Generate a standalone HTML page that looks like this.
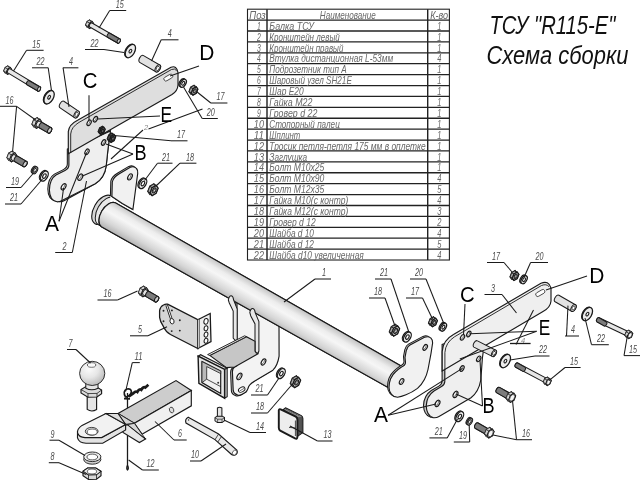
<!DOCTYPE html>
<html lang="ru"><head><meta charset="utf-8"><title>ТСУ R115-E Схема сборки</title>
<style>
html,body{margin:0;padding:0;background:#fff}
body{width:640px;height:482px;overflow:hidden}
svg{display:block;font-family:"Liberation Sans","DejaVu Sans",sans-serif}
</style></head><body>
<svg width="640" height="482" viewBox="0 0 640 482">
<defs>
<linearGradient id="gb" gradientUnits="userSpaceOnUse" x1="112.25" y1="198.9" x2="97.75" y2="224.06">
<stop offset="0" stop-color="#bdbdbd"/><stop offset="0.28" stop-color="#ededed"/><stop offset="0.45" stop-color="#f6f6f6"/><stop offset="0.78" stop-color="#d6d6d6"/><stop offset="1" stop-color="#b4b4b4"/>
</linearGradient>
<radialGradient id="gs" cx="0.38" cy="0.3" r="0.75">
<stop offset="0" stop-color="#fcfcfc"/><stop offset="0.5" stop-color="#e6e6e6"/><stop offset="1" stop-color="#b6b6b6"/>
</radialGradient>
<filter id="idf" x="0" y="0" width="640" height="482" filterUnits="userSpaceOnUse"><feOffset dx="0" dy="0"/></filter>
</defs>
<rect width="640" height="482" fill="#fff"/>
<g filter="url(#idf)">

<g id="table">
<rect x="247.5" y="9.2" width="201.9" height="250.81" fill="#fff" stroke="#222" stroke-width="1.1"/>
<line x1="247.5" y1="20.1" x2="449.4" y2="20.1" stroke="#222" stroke-width="1.3"/>
<line x1="247.5" y1="31.01" x2="449.4" y2="31.01" stroke="#222" stroke-width="1.3"/>
<line x1="247.5" y1="41.91" x2="449.4" y2="41.91" stroke="#222" stroke-width="1.3"/>
<line x1="247.5" y1="52.82" x2="449.4" y2="52.82" stroke="#222" stroke-width="1.3"/>
<line x1="247.5" y1="63.72" x2="449.4" y2="63.72" stroke="#222" stroke-width="1.3"/>
<line x1="247.5" y1="74.63" x2="449.4" y2="74.63" stroke="#222" stroke-width="1.3"/>
<line x1="247.5" y1="85.53" x2="449.4" y2="85.53" stroke="#222" stroke-width="1.3"/>
<line x1="247.5" y1="96.44" x2="449.4" y2="96.44" stroke="#222" stroke-width="1.3"/>
<line x1="247.5" y1="107.34" x2="449.4" y2="107.34" stroke="#222" stroke-width="1.3"/>
<line x1="247.5" y1="118.25" x2="449.4" y2="118.25" stroke="#222" stroke-width="1.3"/>
<line x1="247.5" y1="129.16" x2="449.4" y2="129.16" stroke="#222" stroke-width="1.3"/>
<line x1="247.5" y1="140.06" x2="449.4" y2="140.06" stroke="#222" stroke-width="1.3"/>
<line x1="247.5" y1="150.96" x2="449.4" y2="150.96" stroke="#222" stroke-width="1.3"/>
<line x1="247.5" y1="161.87" x2="449.4" y2="161.87" stroke="#222" stroke-width="1.3"/>
<line x1="247.5" y1="172.77" x2="449.4" y2="172.77" stroke="#222" stroke-width="1.3"/>
<line x1="247.5" y1="183.68" x2="449.4" y2="183.68" stroke="#222" stroke-width="1.3"/>
<line x1="247.5" y1="194.58" x2="449.4" y2="194.58" stroke="#222" stroke-width="1.3"/>
<line x1="247.5" y1="205.49" x2="449.4" y2="205.49" stroke="#222" stroke-width="1.3"/>
<line x1="247.5" y1="216.39" x2="449.4" y2="216.39" stroke="#222" stroke-width="1.3"/>
<line x1="247.5" y1="227.3" x2="449.4" y2="227.3" stroke="#222" stroke-width="1.3"/>
<line x1="247.5" y1="238.2" x2="449.4" y2="238.2" stroke="#222" stroke-width="1.3"/>
<line x1="247.5" y1="249.11" x2="449.4" y2="249.11" stroke="#222" stroke-width="1.3"/>
<line x1="267" y1="9.2" x2="267" y2="260.01" stroke="#222" stroke-width="1.43"/>
<line x1="427.7" y1="9.2" x2="427.7" y2="260.01" stroke="#222" stroke-width="1.43"/>
<text x="249.3" y="18.8" font-size="10.6" fill="#686868" text-anchor="start" font-style="italic" font-weight="normal" textLength="16.5" lengthAdjust="spacingAndGlyphs" >Поз</text>
<text x="319.8" y="18.8" font-size="10.6" fill="#686868" text-anchor="start" font-style="italic" font-weight="normal" textLength="56" lengthAdjust="spacingAndGlyphs" >Наименование</text>
<text x="430.2" y="18.8" font-size="10.6" fill="#686868" text-anchor="start" font-style="italic" font-weight="normal" textLength="18" lengthAdjust="spacingAndGlyphs" >К-во</text>
<text x="257" y="29.71" font-size="10.6" fill="#686868" text-anchor="start" font-style="italic" font-weight="normal" textLength="3.8" lengthAdjust="spacingAndGlyphs" >1</text>
<text x="269.3" y="29.71" font-size="10.6" fill="#686868" text-anchor="start" font-style="italic" font-weight="normal" textLength="44.7" lengthAdjust="spacingAndGlyphs" >Балка ТСУ</text>
<text x="439.3" y="29.71" font-size="10.6" fill="#686868" text-anchor="middle" font-style="italic" font-weight="normal" textLength="4.2" lengthAdjust="spacingAndGlyphs" >1</text>
<text x="257" y="40.61" font-size="10.6" fill="#686868" text-anchor="start" font-style="italic" font-weight="normal" textLength="3.8" lengthAdjust="spacingAndGlyphs" >2</text>
<text x="269.3" y="40.61" font-size="10.6" fill="#686868" text-anchor="start" font-style="italic" font-weight="normal" textLength="70.5" lengthAdjust="spacingAndGlyphs" >Кронштейн левый</text>
<text x="439.3" y="40.61" font-size="10.6" fill="#686868" text-anchor="middle" font-style="italic" font-weight="normal" textLength="4.2" lengthAdjust="spacingAndGlyphs" >1</text>
<text x="257" y="51.52" font-size="10.6" fill="#686868" text-anchor="start" font-style="italic" font-weight="normal" textLength="3.8" lengthAdjust="spacingAndGlyphs" >3</text>
<text x="269.3" y="51.52" font-size="10.6" fill="#686868" text-anchor="start" font-style="italic" font-weight="normal" textLength="74" lengthAdjust="spacingAndGlyphs" >Кронштейн правый</text>
<text x="439.3" y="51.52" font-size="10.6" fill="#686868" text-anchor="middle" font-style="italic" font-weight="normal" textLength="4.2" lengthAdjust="spacingAndGlyphs" >1</text>
<text x="257" y="62.42" font-size="10.6" fill="#686868" text-anchor="start" font-style="italic" font-weight="normal" textLength="3.8" lengthAdjust="spacingAndGlyphs" >4</text>
<text x="269.3" y="62.42" font-size="10.6" fill="#686868" text-anchor="start" font-style="italic" font-weight="normal" textLength="123.8" lengthAdjust="spacingAndGlyphs" >Втулка дистанционная L-53мм</text>
<text x="439.3" y="62.42" font-size="10.6" fill="#686868" text-anchor="middle" font-style="italic" font-weight="normal" textLength="4.2" lengthAdjust="spacingAndGlyphs" >4</text>
<text x="257" y="73.33" font-size="10.6" fill="#686868" text-anchor="start" font-style="italic" font-weight="normal" textLength="3.8" lengthAdjust="spacingAndGlyphs" >5</text>
<text x="269.3" y="73.33" font-size="10.6" fill="#686868" text-anchor="start" font-style="italic" font-weight="normal" textLength="77.3" lengthAdjust="spacingAndGlyphs" >Подрозетник тип А</text>
<text x="439.3" y="73.33" font-size="10.6" fill="#686868" text-anchor="middle" font-style="italic" font-weight="normal" textLength="4.2" lengthAdjust="spacingAndGlyphs" >1</text>
<text x="257" y="84.23" font-size="10.6" fill="#686868" text-anchor="start" font-style="italic" font-weight="normal" textLength="3.8" lengthAdjust="spacingAndGlyphs" >6</text>
<text x="269.3" y="84.23" font-size="10.6" fill="#686868" text-anchor="start" font-style="italic" font-weight="normal" textLength="82.5" lengthAdjust="spacingAndGlyphs" >Шаровый узел SH21E</text>
<text x="439.3" y="84.23" font-size="10.6" fill="#686868" text-anchor="middle" font-style="italic" font-weight="normal" textLength="4.2" lengthAdjust="spacingAndGlyphs" >1</text>
<text x="257" y="95.14" font-size="10.6" fill="#686868" text-anchor="start" font-style="italic" font-weight="normal" textLength="3.8" lengthAdjust="spacingAndGlyphs" >7</text>
<text x="269.3" y="95.14" font-size="10.6" fill="#686868" text-anchor="start" font-style="italic" font-weight="normal" textLength="34.4" lengthAdjust="spacingAndGlyphs" >Шар Е20</text>
<text x="439.3" y="95.14" font-size="10.6" fill="#686868" text-anchor="middle" font-style="italic" font-weight="normal" textLength="4.2" lengthAdjust="spacingAndGlyphs" >1</text>
<text x="257" y="106.05" font-size="10.6" fill="#686868" text-anchor="start" font-style="italic" font-weight="normal" textLength="3.8" lengthAdjust="spacingAndGlyphs" >8</text>
<text x="269.3" y="106.05" font-size="10.6" fill="#686868" text-anchor="start" font-style="italic" font-weight="normal" textLength="43" lengthAdjust="spacingAndGlyphs" >Гайка М22</text>
<text x="439.3" y="106.05" font-size="10.6" fill="#686868" text-anchor="middle" font-style="italic" font-weight="normal" textLength="4.2" lengthAdjust="spacingAndGlyphs" >1</text>
<text x="257" y="116.95" font-size="10.6" fill="#686868" text-anchor="start" font-style="italic" font-weight="normal" textLength="3.8" lengthAdjust="spacingAndGlyphs" >9</text>
<text x="269.3" y="116.95" font-size="10.6" fill="#686868" text-anchor="start" font-style="italic" font-weight="normal" textLength="48" lengthAdjust="spacingAndGlyphs" >Гровер d 22</text>
<text x="439.3" y="116.95" font-size="10.6" fill="#686868" text-anchor="middle" font-style="italic" font-weight="normal" textLength="4.2" lengthAdjust="spacingAndGlyphs" >1</text>
<text x="253.8" y="127.86" font-size="10.6" fill="#686868" text-anchor="start" font-style="italic" font-weight="normal" textLength="10.2" lengthAdjust="spacingAndGlyphs" >10</text>
<text x="269.3" y="127.86" font-size="10.6" fill="#686868" text-anchor="start" font-style="italic" font-weight="normal" textLength="70.5" lengthAdjust="spacingAndGlyphs" >Стопорный палец</text>
<text x="439.3" y="127.86" font-size="10.6" fill="#686868" text-anchor="middle" font-style="italic" font-weight="normal" textLength="4.2" lengthAdjust="spacingAndGlyphs" >1</text>
<text x="253.8" y="138.76" font-size="10.6" fill="#686868" text-anchor="start" font-style="italic" font-weight="normal" textLength="10.2" lengthAdjust="spacingAndGlyphs" >11</text>
<text x="269.3" y="138.76" font-size="10.6" fill="#686868" text-anchor="start" font-style="italic" font-weight="normal" textLength="31" lengthAdjust="spacingAndGlyphs" >Шплинт</text>
<text x="439.3" y="138.76" font-size="10.6" fill="#686868" text-anchor="middle" font-style="italic" font-weight="normal" textLength="4.2" lengthAdjust="spacingAndGlyphs" >1</text>
<text x="253.8" y="149.66" font-size="10.6" fill="#686868" text-anchor="start" font-style="italic" font-weight="normal" textLength="10.2" lengthAdjust="spacingAndGlyphs" >12</text>
<text x="269.3" y="149.66" font-size="10.6" fill="#686868" text-anchor="start" font-style="italic" font-weight="normal" textLength="156.4" lengthAdjust="spacingAndGlyphs" >Тросик петля-петля 175 мм в оплетке</text>
<text x="439.3" y="149.66" font-size="10.6" fill="#686868" text-anchor="middle" font-style="italic" font-weight="normal" textLength="4.2" lengthAdjust="spacingAndGlyphs" >1</text>
<text x="253.8" y="160.57" font-size="10.6" fill="#686868" text-anchor="start" font-style="italic" font-weight="normal" textLength="10.2" lengthAdjust="spacingAndGlyphs" >13</text>
<text x="269.3" y="160.57" font-size="10.6" fill="#686868" text-anchor="start" font-style="italic" font-weight="normal" textLength="37.8" lengthAdjust="spacingAndGlyphs" >Заглушка</text>
<text x="439.3" y="160.57" font-size="10.6" fill="#686868" text-anchor="middle" font-style="italic" font-weight="normal" textLength="4.2" lengthAdjust="spacingAndGlyphs" >1</text>
<text x="253.8" y="171.47" font-size="10.6" fill="#686868" text-anchor="start" font-style="italic" font-weight="normal" textLength="10.2" lengthAdjust="spacingAndGlyphs" >14</text>
<text x="269.3" y="171.47" font-size="10.6" fill="#686868" text-anchor="start" font-style="italic" font-weight="normal" textLength="55" lengthAdjust="spacingAndGlyphs" >Болт М10х25</text>
<text x="439.3" y="171.47" font-size="10.6" fill="#686868" text-anchor="middle" font-style="italic" font-weight="normal" textLength="4.2" lengthAdjust="spacingAndGlyphs" >1</text>
<text x="253.8" y="182.38" font-size="10.6" fill="#686868" text-anchor="start" font-style="italic" font-weight="normal" textLength="10.2" lengthAdjust="spacingAndGlyphs" >15</text>
<text x="269.3" y="182.38" font-size="10.6" fill="#686868" text-anchor="start" font-style="italic" font-weight="normal" textLength="55" lengthAdjust="spacingAndGlyphs" >Болт  М10х90</text>
<text x="439.3" y="182.38" font-size="10.6" fill="#686868" text-anchor="middle" font-style="italic" font-weight="normal" textLength="4.2" lengthAdjust="spacingAndGlyphs" >4</text>
<text x="253.8" y="193.28" font-size="10.6" fill="#686868" text-anchor="start" font-style="italic" font-weight="normal" textLength="10.2" lengthAdjust="spacingAndGlyphs" >16</text>
<text x="269.3" y="193.28" font-size="10.6" fill="#686868" text-anchor="start" font-style="italic" font-weight="normal" textLength="55" lengthAdjust="spacingAndGlyphs" >Болт М12х35</text>
<text x="439.3" y="193.28" font-size="10.6" fill="#686868" text-anchor="middle" font-style="italic" font-weight="normal" textLength="4.2" lengthAdjust="spacingAndGlyphs" >5</text>
<text x="253.8" y="204.19" font-size="10.6" fill="#686868" text-anchor="start" font-style="italic" font-weight="normal" textLength="10.2" lengthAdjust="spacingAndGlyphs" >17</text>
<text x="269.3" y="204.19" font-size="10.6" fill="#686868" text-anchor="start" font-style="italic" font-weight="normal" textLength="79" lengthAdjust="spacingAndGlyphs" >Гайка М10(с контр)</text>
<text x="439.3" y="204.19" font-size="10.6" fill="#686868" text-anchor="middle" font-style="italic" font-weight="normal" textLength="4.2" lengthAdjust="spacingAndGlyphs" >4</text>
<text x="253.8" y="215.09" font-size="10.6" fill="#686868" text-anchor="start" font-style="italic" font-weight="normal" textLength="10.2" lengthAdjust="spacingAndGlyphs" >18</text>
<text x="269.3" y="215.09" font-size="10.6" fill="#686868" text-anchor="start" font-style="italic" font-weight="normal" textLength="79" lengthAdjust="spacingAndGlyphs" >Гайка М12(с контр)</text>
<text x="439.3" y="215.09" font-size="10.6" fill="#686868" text-anchor="middle" font-style="italic" font-weight="normal" textLength="4.2" lengthAdjust="spacingAndGlyphs" >3</text>
<text x="253.8" y="226" font-size="10.6" fill="#686868" text-anchor="start" font-style="italic" font-weight="normal" textLength="10.2" lengthAdjust="spacingAndGlyphs" >19</text>
<text x="269.3" y="226" font-size="10.6" fill="#686868" text-anchor="start" font-style="italic" font-weight="normal" textLength="46.4" lengthAdjust="spacingAndGlyphs" >Гровер d 12</text>
<text x="439.3" y="226" font-size="10.6" fill="#686868" text-anchor="middle" font-style="italic" font-weight="normal" textLength="4.2" lengthAdjust="spacingAndGlyphs" >2</text>
<text x="253.8" y="236.9" font-size="10.6" fill="#686868" text-anchor="start" font-style="italic" font-weight="normal" textLength="10.2" lengthAdjust="spacingAndGlyphs" >20</text>
<text x="269.3" y="236.9" font-size="10.6" fill="#686868" text-anchor="start" font-style="italic" font-weight="normal" textLength="44.7" lengthAdjust="spacingAndGlyphs" >Шайба d 10</text>
<text x="439.3" y="236.9" font-size="10.6" fill="#686868" text-anchor="middle" font-style="italic" font-weight="normal" textLength="4.2" lengthAdjust="spacingAndGlyphs" >4</text>
<text x="253.8" y="247.81" font-size="10.6" fill="#686868" text-anchor="start" font-style="italic" font-weight="normal" textLength="10.2" lengthAdjust="spacingAndGlyphs" >21</text>
<text x="269.3" y="247.81" font-size="10.6" fill="#686868" text-anchor="start" font-style="italic" font-weight="normal" textLength="44.7" lengthAdjust="spacingAndGlyphs" >Шайба d 12</text>
<text x="439.3" y="247.81" font-size="10.6" fill="#686868" text-anchor="middle" font-style="italic" font-weight="normal" textLength="4.2" lengthAdjust="spacingAndGlyphs" >5</text>
<text x="253.8" y="258.71" font-size="10.6" fill="#686868" text-anchor="start" font-style="italic" font-weight="normal" textLength="10.2" lengthAdjust="spacingAndGlyphs" >22</text>
<text x="269.3" y="258.71" font-size="10.6" fill="#686868" text-anchor="start" font-style="italic" font-weight="normal" textLength="94.5" lengthAdjust="spacingAndGlyphs" >Шайба d10 увеличенная</text>
<text x="439.3" y="258.71" font-size="10.6" fill="#686868" text-anchor="middle" font-style="italic" font-weight="normal" textLength="4.2" lengthAdjust="spacingAndGlyphs" >4</text>
</g>
<text x="489.5" y="33.8" font-size="25.5" fill="#111" text-anchor="start" font-style="italic" font-weight="normal" textLength="126" lengthAdjust="spacingAndGlyphs" >ТСУ &quot;R115-E&quot;</text>
<text x="486.5" y="63.6" font-size="25.5" fill="#111" text-anchor="start" font-style="italic" font-weight="normal" textLength="142" lengthAdjust="spacingAndGlyphs" >Схема сборки</text>
<g id="bracket2">
<path d="M70.5 150 L70.5 165.5 Q70.3 168.6 67 170.4 L59.5 174.4 Q52.6 179 52.2 190.5 Q52.6 200 59.5 201.6 Q62 201.9 64.5 200.5 L95.2 183.8 Q104.6 178 106.2 166 L108 149 L110.4 131 L70.5 151Z" fill="#c8c8c8" stroke="#1a1a1a" stroke-width="1.09" transform="translate(-2.5,-0.5)"/>
<path d="M70.5 150 L70.5 165.5 Q70.3 168.6 67 170.4 L59.5 174.4 Q52.6 179 52.2 190.5 Q52.6 200 59.5 201.6 Q62 201.9 64.5 200.5 L95.2 183.8 Q104.6 178 106.2 166 L108 149 L110.4 131 L70.5 151Z" fill="#efefef" stroke="#1a1a1a" stroke-width="1.15" />
<g id="bracket2">
<path d="M68.9 150 L68.9 165 Q68.9 168.5 65 170.5 L56 175 Q49.6 179 49.4 190 Q49.6 200.5 57 201.8 Q59.5 202 62 200.5 L95.2 183.8 Q104.6 178 106.2 166 L108 149 L110.4 131 L68.9 150Z" fill="#cfcfcf" stroke="#1a1a1a" stroke-width="1.02" transform="translate(-1.6,-0.9)"/>
<path d="M68.9 150 L68.9 165 Q68.9 168.5 65 170.5 L56 175 Q49.6 179 49.4 190 Q49.6 200.5 57 201.8 Q59.5 202 62 200.5 L95.2 183.8 Q104.6 178 106.2 166 L108 149 L110.4 131 L68.9 150Z" fill="#efefef" stroke="#1a1a1a" stroke-width="1.15" />
<path d="M68.3 153.7 L68.3 131.5 Q69 124.5 77.6 120.2 L171 67.3 Q176.5 65 178 72.5 L178 85 Q177.6 91 172 94.6 Z" fill="#dedede" stroke="#1a1a1a" stroke-width="1.15" />
<path d="M70.7 153 L70.7 134 Q71.3 127 79 122.4 L171.5 69.5 Q175 68 176.6 70.7" fill="none" stroke="#1a1a1a" stroke-width="0.9" />
<rect x="-4.8" y="-2" width="9.6" height="4" rx="2" transform="translate(168.3 77.6) rotate(-30)" fill="#fff" stroke="#1a1a1a" stroke-width="0.7"/>
<ellipse cx="89.1" cy="122.8" rx="1.77" ry="3.06" transform="rotate(30 89.1 122.8)" fill="#fff" stroke="#1a1a1a" stroke-width="1.16"/>
<path d="M89.82 120.68 A1.53 2.75 30 0 1 87.38 124.92" fill="none" stroke="#1a1a1a" stroke-width="0.64" />
<ellipse cx="95.4" cy="119.2" rx="1.77" ry="3.06" transform="rotate(30 95.4 119.2)" fill="#fff" stroke="#1a1a1a" stroke-width="1.16"/>
<path d="M96.12 117.08 A1.53 2.75 30 0 1 93.68 121.32" fill="none" stroke="#1a1a1a" stroke-width="0.64" />
<ellipse cx="103.6" cy="142.5" rx="1.77" ry="3.06" transform="rotate(30 103.6 142.5)" fill="#fff" stroke="#1a1a1a" stroke-width="1.16"/>
<path d="M104.32 140.38 A1.53 2.75 30 0 1 101.88 144.62" fill="none" stroke="#1a1a1a" stroke-width="0.64" />
<ellipse cx="87" cy="151.8" rx="1.77" ry="3.06" transform="rotate(30 87 151.8)" fill="#fff" stroke="#1a1a1a" stroke-width="1.16"/>
<path d="M87.72 149.68 A1.53 2.75 30 0 1 85.28 153.92" fill="none" stroke="#1a1a1a" stroke-width="0.64" />
<ellipse cx="80.3" cy="177.2" rx="2" ry="3.46" transform="rotate(30 80.3 177.2)" fill="#fff" stroke="#1a1a1a" stroke-width="1.16"/>
<path d="M81.18 174.8 A1.73 3.11 30 0 1 78.42 179.6" fill="none" stroke="#1a1a1a" stroke-width="0.64" />
<ellipse cx="63.6" cy="186.8" rx="2" ry="3.46" transform="rotate(30 63.6 186.8)" fill="#fff" stroke="#1a1a1a" stroke-width="1.16"/>
<path d="M64.48 184.4 A1.73 3.11 30 0 1 61.72 189.2" fill="none" stroke="#1a1a1a" stroke-width="0.64" />
</g>
<g id="beam">
<path d="M237 300 L279 322 L279.1 356.2 Q277.5 366 272.9 370.2 L257.3 379.5 Q250 383.5 248.7 386.5 Q247 392 244.8 392.8 Q240 396.2 237.6 395 Q233.5 393.5 233.2 390.4 L232.4 371.7 Q232.6 368 234.7 367 L237 365.7 Z" fill="#c4c4c4" stroke="#1a1a1a" stroke-width="1.02" transform="translate(-1.8,0.7)"/>
<path d="M237 300 L279 322 L279.1 356.2 Q277.5 366 272.9 370.2 L257.3 379.5 Q250 383.5 248.7 386.5 Q247 392 244.8 392.8 Q240 396.2 237.6 395 Q233.5 393.5 233.2 390.4 L232.4 371.7 Q232.6 368 234.7 367 L237 365.7 Z" fill="#f3f3f3" stroke="#1a1a1a" stroke-width="1.15" />
<ellipse cx="263.5" cy="362" rx="1.92" ry="3.33" transform="rotate(30 263.5 362)" fill="#fff" stroke="#1a1a1a" stroke-width="1.16"/>
<path d="M264.33 359.7 A1.66 2.99 30 0 1 261.67 364.3" fill="none" stroke="#1a1a1a" stroke-width="0.64" />
<ellipse cx="239.4" cy="376.4" rx="2.07" ry="3.59" transform="rotate(30 239.4 376.4)" fill="#fff" stroke="#1a1a1a" stroke-width="1.16"/>
<path d="M240.34 373.91 A1.8 3.23 30 0 1 237.46 378.89" fill="none" stroke="#1a1a1a" stroke-width="0.64" />
<ellipse cx="241.7" cy="389.6" rx="3.5" ry="2.3" transform="rotate(-28 241.7 389.6)" fill="#fff" stroke="#1a1a1a" stroke-width="0.9"/>
<path d="M239.6 391 L244 388.4" fill="none" stroke="#1a1a1a" stroke-width="0.64" />
<clipPath id="cf"><path d="M80 180 L110.2 180 L110.2 200 L104 240 L80 240Z"/></clipPath><g clip-path="url(#cf)">
<ellipse cx="103" cy="209.8" rx="9.23" ry="16" transform="rotate(30 103 209.8)" fill="#d6d6d6" stroke="#1a1a1a" stroke-width="1.1"/>
<ellipse cx="106.2" cy="211.3" rx="8.94" ry="15.5" transform="rotate(30 106.2 211.3)" fill="#e9e9e9" stroke="#1a1a1a" stroke-width="0.98"/>
</g>
<g id="beamtube">
<path d="M101.4 226.8 L389 388 L401.5 366.3 L115.3 202.8 A8.1 13.9 30 0 0 101.4 226.8Z" fill="url(#gb)" stroke="#1a1a1a" stroke-width="1.15" />
</g>
</g>
<g id="endL">
<path d="M109.6 196 L110 181.5 Q111 177 116.6 173.6 L128 166.8 Q132 165.3 134.2 168 Q136 170 135.4 173 L130.6 209 L120 203 Z" fill="#c8c8c8" stroke="#1a1a1a" stroke-width="1.02" transform="translate(0.8,-0.4)"/>
<path d="M109.6 196 L110 181.5 Q111 177 116.6 173.6 L128 166.8 Q132 165.3 134.2 168 Q136 170 135.4 173 L130.6 209 L120 203 Z" fill="#f1f1f1" stroke="#1a1a1a" stroke-width="1.15" transform="translate(2.3,0.5)"/>
<ellipse cx="130" cy="176.9" rx="1.92" ry="3.33" transform="rotate(30 130 176.9)" fill="#fff" stroke="#1a1a1a" stroke-width="1.16"/>
<path d="M130.83 174.6 A1.66 2.99 30 0 1 128.17 179.2" fill="none" stroke="#1a1a1a" stroke-width="0.64" />
</g>
<use href="#beamtube"/>
<g id="endR">
<path d="M407 349 Q407.5 346.5 410 345 L424.5 337.3 Q428.5 335.8 431 338.2 Q432.8 340 432.6 343 L431 353.5 L428 369.5 Q426.8 375 424.4 379.5 Q421.5 385 417.5 388.4 Q412 392.5 406 394.8 Q401 396.8 397.5 397.3 Q393.5 397 391.5 394.3 Q389 391.5 389 387.5 Q389 383 390.5 379 Q392.5 374.5 395.6 371.8 Q398.5 369 401.5 367 Q405.4 365.5 405.5 362.5 L405 357.5 L406.3 350.5Z" fill="#c8c8c8" stroke="#1a1a1a" stroke-width="1.02" transform="translate(-1.5,-0.9)"/>
<path d="M407 349 Q407.5 346.5 410 345 L424.5 337.3 Q428.5 335.8 431 338.2 Q432.8 340 432.6 343 L431 353.5 L428 369.5 Q426.8 375 424.4 379.5 Q421.5 385 417.5 388.4 Q412 392.5 406 394.8 Q401 396.8 397.5 397.3 Q393.5 397 391.5 394.3 Q389 391.5 389 387.5 Q389 383 390.5 379 Q392.5 374.5 395.6 371.8 Q398.5 369 401.5 367 Q405.4 365.5 405.5 362.5 L405 357.5 L406.3 350.5Z" fill="#f1f1f1" stroke="#1a1a1a" stroke-width="1.15" />
<ellipse cx="425.2" cy="347.4" rx="1.84" ry="3.19" transform="rotate(30 425.2 347.4)" fill="#fff" stroke="#1a1a1a" stroke-width="1.16"/>
<path d="M425.98 345.19 A1.6 2.87 30 0 1 423.42 349.61" fill="none" stroke="#1a1a1a" stroke-width="0.64" />
<ellipse cx="401.6" cy="381.5" rx="1.84" ry="3.19" transform="rotate(30 401.6 381.5)" fill="#fff" stroke="#1a1a1a" stroke-width="1.16"/>
<path d="M402.38 379.29 A1.6 2.87 30 0 1 399.82 383.71" fill="none" stroke="#1a1a1a" stroke-width="0.64" />
</g>
<g id="bracket3">
<path d="M444.8 345 L444.8 381.5 Q444.6 384.8 441.5 386.6 L434 391 Q426.6 396 426.2 406 Q426.6 415.4 433 417.6 Q436 418.2 439 416.5 L471 397.8 Q478.6 392 480.8 380 L482.4 358 L486 332 Z" fill="#c8c8c8" stroke="#1a1a1a" stroke-width="1.09" transform="translate(-2.7,-0.5)"/>
<path d="M444.8 345 L444.8 381.5 Q444.6 384.8 441.5 386.6 L434 391 Q426.6 396 426.2 406 Q426.6 415.4 433 417.6 Q436 418.2 439 416.5 L471 397.8 Q478.6 392 480.8 380 L482.4 358 L486 332 Z" fill="#efefef" stroke="#1a1a1a" stroke-width="1.15" />
<path d="M442.2 371 L442.2 351.5 Q442.8 340.5 453.5 334.6 L541 283.3 Q548.5 280 551 288 L551 301 Q550.5 307.5 543 311.5 Z" fill="#efefef" stroke="#1a1a1a" stroke-width="1.15" />
<path d="M444.9 369.5 L444.9 352.5 Q445.6 342.5 454.5 336.8 L541.5 285.5 Q546.5 283.5 549 286.7" fill="none" stroke="#1a1a1a" stroke-width="0.9" />
<rect x="-5" y="-2" width="10" height="4" rx="2" transform="translate(540.3 293) rotate(-30)" fill="#fff" stroke="#1a1a1a" stroke-width="0.7"/>
<ellipse cx="462.5" cy="337.4" rx="1.77" ry="3.06" transform="rotate(30 462.5 337.4)" fill="#fff" stroke="#1a1a1a" stroke-width="1.16"/>
<path d="M463.22 335.28 A1.53 2.75 30 0 1 460.78 339.52" fill="none" stroke="#1a1a1a" stroke-width="0.64" />
<ellipse cx="468.8" cy="334" rx="1.77" ry="3.06" transform="rotate(30 468.8 334)" fill="#fff" stroke="#1a1a1a" stroke-width="1.16"/>
<path d="M469.52 331.88 A1.53 2.75 30 0 1 467.08 336.12" fill="none" stroke="#1a1a1a" stroke-width="0.64" />
<ellipse cx="478.7" cy="358.9" rx="1.77" ry="3.06" transform="rotate(30 478.7 358.9)" fill="#fff" stroke="#1a1a1a" stroke-width="1.16"/>
<path d="M479.42 356.78 A1.53 2.75 30 0 1 476.98 361.02" fill="none" stroke="#1a1a1a" stroke-width="0.64" />
<ellipse cx="462" cy="368.5" rx="1.77" ry="3.06" transform="rotate(30 462 368.5)" fill="#fff" stroke="#1a1a1a" stroke-width="1.16"/>
<path d="M462.72 366.38 A1.53 2.75 30 0 1 460.28 370.62" fill="none" stroke="#1a1a1a" stroke-width="0.64" />
<ellipse cx="455.5" cy="394.4" rx="2" ry="3.46" transform="rotate(30 455.5 394.4)" fill="#fff" stroke="#1a1a1a" stroke-width="1.16"/>
<path d="M456.38 392 A1.73 3.11 30 0 1 453.62 396.8" fill="none" stroke="#1a1a1a" stroke-width="0.64" />
<ellipse cx="437.5" cy="403.4" rx="2" ry="3.46" transform="rotate(30 437.5 403.4)" fill="#fff" stroke="#1a1a1a" stroke-width="1.16"/>
<path d="M438.38 401 A1.73 3.11 30 0 1 435.62 405.8" fill="none" stroke="#1a1a1a" stroke-width="0.64" />
</g>
<g id="socket">
<path d="M159.6 317.4 L159.6 310.4 Q160.5 306.2 163.5 305 Q165.6 303.6 167.6 304.2 L197.8 319.7 L197.8 348.5 L170.5 334.5 Q165.6 331.6 163.5 326.7 Q160 321.5 159.6 317.4Z" fill="#d6d6d6" stroke="#1a1a1a" stroke-width="1.28" />
<path d="M197.8 319.7 L210.2 313.5 L211 341.5 L197.8 348.5Z" fill="#eeeeee" stroke="#1a1a1a" stroke-width="1.28" />
<path d="M197.8 319.7 L199.4 318.9 L199.4 347.6 L197.8 348.5Z" fill="#fff" stroke="#1a1a1a" stroke-width="0.64" />
<ellipse cx="206" cy="321.3" rx="2.09" ry="2.9" transform="rotate(12 206 321.3)" fill="#fff" stroke="#1a1a1a" stroke-width="1.0"/>
<ellipse cx="206" cy="328.3" rx="1.87" ry="2.6" transform="rotate(12 206 328.3)" fill="#fff" stroke="#1a1a1a" stroke-width="1.0"/>
<ellipse cx="206" cy="334.6" rx="1.87" ry="2.6" transform="rotate(12 206 334.6)" fill="#fff" stroke="#1a1a1a" stroke-width="1.0"/>
<ellipse cx="206" cy="340.8" rx="1.87" ry="2.6" transform="rotate(12 206 340.8)" fill="#fff" stroke="#1a1a1a" stroke-width="1.0"/>
<path d="M166.6 305 L171.2 318.6" fill="none" stroke="#1a1a1a" stroke-width="2.56" />
<path d="M166.7 305.2 L171.2 318.6" fill="none" stroke="#fff" stroke-width="0.9" />
<ellipse cx="172" cy="321.2" rx="2" ry="2.7" transform="rotate(-15 172 321.2)" fill="#fff" stroke="#1a1a1a" stroke-width="0.9"/>
<circle cx="163.5" cy="310.8" r="0.95" fill="#222"/>
<circle cx="171.9" cy="310.4" r="0.95" fill="#222"/>
<circle cx="179.8" cy="320.2" r="0.95" fill="#222"/>
<circle cx="179.8" cy="330.6" r="0.95" fill="#222"/>
<circle cx="171.7" cy="331.1" r="0.95" fill="#222"/>
<circle cx="163.5" cy="321.3" r="0.95" fill="#222"/>
</g>
<g id="receiver">
<path d="M228.3 300 Q229.2 295.6 231.3 295.8 Q233.2 296.2 233.6 300 L237.2 309 L237.2 339 Q236.5 341.5 234.8 340 L233.2 338 L233.2 311 L229.3 303Z" fill="#e8e8e8" stroke="#1a1a1a" stroke-width="1.02" />
<path d="M249.8 312.5 Q250.6 308.4 252.8 308.5 Q254.8 308.9 255.2 312.6 L258.9 321.5 L258.9 351 Q258 354 256.4 353 L255 351 L255 324 L250.8 316Z" fill="#e8e8e8" stroke="#1a1a1a" stroke-width="1.02" />
<path d="M209.8 355.4 L246.4 336.7 L255 341.3 L255 351 L256.4 353 L258 353.8 L234.7 367 L226.5 367.6Z" fill="#c6c6c6" stroke="#1a1a1a" stroke-width="1.15" />
<path d="M207.6 354.6 L244.6 335.8 L246.4 336.7 L209.8 355.4Z" fill="#efefef" stroke="#1a1a1a" stroke-width="0.9" />
<path d="M198.1 356.2 L200.6 354.7 L227.2 368.2 L224.6 369.4Z" fill="#dcdcdc" stroke="#1a1a1a" stroke-width="1.02" />
<path d="M224.6 369.4 L227.2 368.2 L227.2 396.8 L224.6 398.2Z" fill="#c9c9c9" stroke="#1a1a1a" stroke-width="1.02" />
<path d="M198.1 356.2 L224.6 369.4 L224.6 398.2 L198.9 383.4Z" fill="#e6e6e6" stroke="#1a1a1a" stroke-width="1.41" />
<path d="M202 361.6 L220.7 371 L220.7 393.5 L202 382.6Z" fill="#f1f1f1" stroke="#1a1a1a" stroke-width="1.15" />
<path d="M202 361.6 L220.7 371 L220.7 373.6 L206.7 366.6 L206.7 379.2 L202 382.6Z" fill="#b9b9b9" stroke="#1a1a1a" stroke-width="0.77" />
<path d="M206.7 379.2 L220.7 386.6" fill="none" stroke="#1a1a1a" stroke-width="0.77" />
<circle cx="218.2" cy="382.8" r="1" fill="#333"/>
</g>
<g id="ball">
<path d="M87.2 396 L87.2 409.4 Q91.8 412.6 96.6 409.4 L96.6 396Z" fill="#e6e6e6" stroke="#1a1a1a" stroke-width="1.15" />
<path d="M81 389.5 L81 393 L88 397.2 L97 397 L101.6 393.6 L101.6 390 L96 386.5 L86 386.5Z" fill="#dcdcdc" stroke="#1a1a1a" stroke-width="1.15" />
<path d="M81 389.5 L88 393.6 L97 393.4 L101.6 390" fill="none" stroke="#1a1a1a" stroke-width="0.77" />
<path d="M88 393.6 L88 397.2 M97 393.4 L97 397" fill="none" stroke="#1a1a1a" stroke-width="0.77" />
<path d="M85.8 383 L85.8 388.2 Q91.7 391.4 98 388.2 L98 383Z" fill="#e4e4e4" stroke="#1a1a1a" stroke-width="1.02" />
<ellipse cx="92.2" cy="373.4" rx="12.6" ry="12.1" fill="url(#gs)" stroke="#1a1a1a" stroke-width="0.9"/>
<ellipse cx="91.6" cy="365" rx="4.2" ry="2.3" fill="#fafafa" stroke="#1a1a1a" stroke-width="0.6"/>
</g>
<g id="cable">
<path d="M127.5 393 L127.5 465 Q126 468.6 127.5 470 Q129.2 468.6 127.5 465" fill="none" stroke="#1a1a1a" stroke-width="1.28" />
<path d="M125.6 397.2 Q122.2 391.2 127 389 Q131 388.2 131.4 391.6 Q131 395.6 125.6 397.2 M124 398.6 L130 398.8" fill="none" stroke="#1a1a1a" stroke-width="1.66" />
<path d="M128.6 396.6 L133.5 393.2 Q135.5 390.8 137.3 392 Q139.3 388.4 141.3 389.8 Q143.3 386.2 145.3 387.6 L148.4 384.8" fill="none" stroke="#1a1a1a" stroke-width="2.69" />
</g>
<g id="hitch">
<path d="M118 413.4 L176 380.6 L191.3 390.5 L134.4 423.3Z" fill="#cdcdcd" stroke="#1a1a1a" stroke-width="1.15" />
<path d="M134.4 423.3 L191.3 390.5 L191.3 405.8 L142 434.2Z" fill="#f0f0f0" stroke="#1a1a1a" stroke-width="1.15" />
<ellipse cx="171.6" cy="410" rx="2.1" ry="2.9" transform="rotate(-20 171.6 410)" fill="#ddd" stroke="#1a1a1a" stroke-width="0.7"/>
<path d="M118 413.4 L134.4 423.3 L128 424 L125.6 424.4Z" fill="#d4d4d4" stroke="#1a1a1a" stroke-width="0.77" />
<path d="M122.2 426 L127.4 424.6 L145.6 439 L139.4 442.6 L123 432.4Z" fill="#e6e6e6" stroke="#1a1a1a" stroke-width="1.15" />
<path d="M127.4 424.6 L134.4 423.3 L142 434.2 L145.6 439Z" fill="#d6d6d6" stroke="#1a1a1a" stroke-width="0.9" />
<path d="M77.5 432 L77.5 437.8 Q79 443 86 443.2 L102.7 443.2 L125.6 430 L125.6 424.4 L101.6 437.5 L84 437.5Z" fill="#e3e3e3" stroke="#1a1a1a" stroke-width="1.15" />
<path d="M106 413.4 L82 425.4 Q76.8 429 77.6 433 Q79 437.4 85 437.6 L101.6 437.6 L125.6 424.4 Z" fill="#f2f2f2" stroke="#1a1a1a" stroke-width="1.15" />
<path d="M106 413.4 L118 413.4 L125.6 424.4Z" fill="#dedede" stroke="#1a1a1a" stroke-width="1.02" />
<ellipse cx="91.7" cy="431.3" rx="6.4" ry="3.9" fill="#d8d8d8" stroke="#1a1a1a" stroke-width="0.8"/>
<ellipse cx="92.2" cy="432" rx="5" ry="2.9" fill="#fff" stroke="#1a1a1a" stroke-width="0.6"/>
</g>
<g id="w9n8">
<ellipse cx="92.3" cy="459.4" rx="8.6" ry="4.8" fill="#cfcfcf" stroke="#1a1a1a" stroke-width="0.9"/>
<ellipse cx="92.3" cy="456.8" rx="8.6" ry="4.8" fill="#ececec" stroke="#1a1a1a" stroke-width="0.9"/>
<ellipse cx="92.3" cy="457" rx="5.4" ry="2.9" fill="#fff" stroke="#1a1a1a" stroke-width="0.7"/>
<path d="M83 471.2 L83 475.6 L88.5 479.5 L96.5 479.3 L101 475.8 L101 471.4 L95.8 468 L87.6 468Z" fill="#d8d8d8" stroke="#1a1a1a" stroke-width="1.15" />
<path d="M83 471.2 L88.5 475 L96.5 474.8 L101 471.4 L95.8 468 L87.6 468Z" fill="#ececec" stroke="#1a1a1a" stroke-width="1.02" />
<path d="M88.5 475 L88.5 479.5 M96.5 474.8 L96.5 479.3" fill="none" stroke="#1a1a1a" stroke-width="0.77" />
<ellipse cx="92" cy="471.5" rx="4.6" ry="2.5" fill="#fff" stroke="#1a1a1a" stroke-width="0.7"/>
</g>
<g id="pin10">
<path d="M188.2 417.2 L218.6 434 L236.8 450 Q238.2 453.5 235.2 455 Q232.5 455.6 231 454 L215 439.6 L186 423 Q184.6 419 188.2 417.2Z" fill="#e9e9e9" stroke="#1a1a1a" stroke-width="1.15" />
<path d="M218.6 434 L215 439.6" fill="none" stroke="#1a1a1a" stroke-width="0.77" />
<path d="M221.5 436.5 L217.8 442" fill="none" stroke="#1a1a1a" stroke-width="0.77" />
<ellipse cx="234.6" cy="452.6" rx="2" ry="2.7" transform="rotate(40 234.6 452.6)" fill="#fff" stroke="#1a1a1a" stroke-width="0.6"/>
<circle cx="188.6" cy="420" r="0.7" fill="#333"/>
</g>
<g id="bolt14">
<path d="M217.4 408 Q219.6 406.4 221.9 408 L221.9 417 L217.4 417Z" fill="#e4e4e4" stroke="#1a1a1a" stroke-width="1.02" />
<path d="M215 417.6 L217 416.2 L222.4 416.2 L224.5 417.6 L224.5 420.8 L222 422.6 L217.4 422.6 L215 420.8Z" fill="#d6d6d6" stroke="#1a1a1a" stroke-width="1.02" />
<path d="M217.6 419.2 L217.6 422.4 M222 419.2 L222 422.4 M215 417.8 L217.6 419.2 L222 419.2 L224.5 417.8" fill="none" stroke="#1a1a1a" stroke-width="0.64" />
</g>
<g id="plug">
<path d="M285.5 407.8 L301.4 415.6 Q302.9 416.6 302.9 418.6 L302.9 432.6 L297.6 436.4 L297 418 L283 409.8Z" fill="#8a8a8a" stroke="#1a1a1a" stroke-width="1.02" />
<line x1="298.2" y1="417.2" x2="298.2" y2="435.8" stroke="#222" stroke-width="0.52"/>
<line x1="299.05" y1="417.1" x2="299.05" y2="435.18" stroke="#222" stroke-width="0.52"/>
<line x1="299.9" y1="417" x2="299.9" y2="434.56" stroke="#222" stroke-width="0.52"/>
<line x1="300.75" y1="416.9" x2="300.75" y2="433.94" stroke="#222" stroke-width="0.52"/>
<line x1="301.6" y1="416.8" x2="301.6" y2="433.32" stroke="#222" stroke-width="0.52"/>
<line x1="302.45" y1="416.7" x2="302.45" y2="432.7" stroke="#222" stroke-width="0.52"/>
<line x1="286" y1="408.6" x2="287.2" y2="410.4" stroke="#222" stroke-width="0.52"/>
<line x1="288.4" y1="409.75" x2="289.6" y2="411.55" stroke="#222" stroke-width="0.52"/>
<line x1="290.8" y1="410.9" x2="292" y2="412.7" stroke="#222" stroke-width="0.52"/>
<line x1="293.2" y1="412.05" x2="294.4" y2="413.85" stroke="#222" stroke-width="0.52"/>
<line x1="295.6" y1="413.2" x2="296.8" y2="415" stroke="#222" stroke-width="0.52"/>
<line x1="298" y1="414.35" x2="299.2" y2="416.15" stroke="#222" stroke-width="0.52"/>
<path d="M280.6 409.4 L295.8 416.6 Q297.4 417.6 297.4 419.5 L297.4 437 Q297.2 439.4 295 438.4 L280.2 430.6 Q278.8 429.6 278.8 427.8 L278.8 410.4 Q279 408.6 280.6 409.4Z" fill="#ededed" stroke="#1a1a1a" stroke-width="1.92" />
<line x1="295.4" y1="420.5" x2="295.4" y2="436" stroke="#1a1a1a" stroke-width="0.78"/>
<line x1="289" y1="427.4" x2="295.4" y2="428" stroke="#1a1a1a" stroke-width="0.78"/>
</g>
<g id="hardware">
<path d="M90.98 21.95 L89.64 25.41 L86.96 26.96 L85.62 25.05 L86.96 21.59 L89.64 20.04Z" fill="#cfcfcf" stroke="#1a1a1a" stroke-width="1.02" />
<path d="M90.98 21.95 L89.64 25.41 L92.24 26.91 L93.58 23.45Z" fill="#d8d8d8" stroke="#1a1a1a" stroke-width="0.64" />
<path d="M89.64 25.41 L86.96 26.96 L89.56 28.46 L92.24 26.91Z" fill="#d8d8d8" stroke="#1a1a1a" stroke-width="0.64" />
<path d="M86.96 26.96 L85.62 25.05 L88.22 26.55 L89.56 28.46Z" fill="#d8d8d8" stroke="#1a1a1a" stroke-width="0.64" />
<path d="M85.62 25.05 L86.96 21.59 L89.56 23.09 L88.22 26.55Z" fill="#d8d8d8" stroke="#1a1a1a" stroke-width="0.64" />
<path d="M86.96 21.59 L89.64 20.04 L92.24 21.54 L89.56 23.09Z" fill="#d8d8d8" stroke="#1a1a1a" stroke-width="0.64" />
<path d="M89.64 20.04 L90.98 21.95 L93.58 23.45 L92.24 21.54Z" fill="#d8d8d8" stroke="#1a1a1a" stroke-width="0.64" />
<path d="M93.58 23.45 L92.24 26.91 L89.56 28.46 L88.22 26.55 L89.56 23.09 L92.24 21.54Z" fill="#e2e2e2" stroke="#1a1a1a" stroke-width="1.02" />
<path d="M89.75 26.99 L117.55 42.99 A1.33 2.3 30 0 0 119.85 39.01 L92.05 23.01 A1.33 2.3 30 0 0 89.75 26.99Z" fill="#e6e6e6" stroke="#1a1a1a" stroke-width="1.02" />
<ellipse cx="118.7" cy="41" rx="1.33" ry="2.3" transform="rotate(30 118.7 41)" fill="#f2f2f2" stroke="#1a1a1a" stroke-width="0.98"/>
<path d="M107.55 37.22 L117.55 42.99 A1.33 2.3 30 0 0 119.85 39.01 L109.85 33.23 A1.33 2.3 30 0 0 107.55 37.22Z" fill="#7c7c7c" stroke="#1a1a1a" stroke-width="1.02" />
<ellipse cx="118.7" cy="41" rx="1.33" ry="2.3" transform="rotate(30 118.7 41)" fill="#cfcfcf" stroke="#1a1a1a" stroke-width="0.98"/>
<ellipse cx="129.79" cy="50.75" rx="4.21" ry="7.3" transform="rotate(30 129.79 50.75)" fill="#aaa" stroke="#1a1a1a" stroke-width="1.22"/>
<ellipse cx="130.4" cy="51.1" rx="4.21" ry="7.3" transform="rotate(30 130.4 51.1)" fill="#ececec" stroke="#1a1a1a" stroke-width="1.28"/>
<ellipse cx="130.4" cy="51.1" rx="1.15" ry="2" transform="rotate(30 130.4 51.1)" fill="#fff" stroke="#1a1a1a" stroke-width="1.1"/>
<path d="M139.65 62.38 L155.85 71.78 A2.25 3.9 30 0 0 159.75 65.02 L143.55 55.62 A2.25 3.9 30 0 0 139.65 62.38Z" fill="#e2e2e2" stroke="#1a1a1a" stroke-width="1.02" />
<ellipse cx="157.8" cy="68.4" rx="2.25" ry="3.9" transform="rotate(30 157.8 68.4)" fill="#f0f0f0" stroke="#1a1a1a" stroke-width="0.98"/>
<ellipse cx="157.8" cy="68.4" rx="1.35" ry="2.34" transform="rotate(30 157.8 68.4)" fill="#fff" stroke="#1a1a1a" stroke-width="0.73"/>
<path d="M9.08 67.85 L7.74 71.31 L5.06 72.86 L3.72 70.95 L5.06 67.49 L7.74 65.94Z" fill="#cfcfcf" stroke="#1a1a1a" stroke-width="1.02" />
<path d="M9.08 67.85 L7.74 71.31 L10.34 72.81 L11.68 69.35Z" fill="#d8d8d8" stroke="#1a1a1a" stroke-width="0.64" />
<path d="M7.74 71.31 L5.06 72.86 L7.66 74.36 L10.34 72.81Z" fill="#d8d8d8" stroke="#1a1a1a" stroke-width="0.64" />
<path d="M5.06 72.86 L3.72 70.95 L6.32 72.45 L7.66 74.36Z" fill="#d8d8d8" stroke="#1a1a1a" stroke-width="0.64" />
<path d="M3.72 70.95 L5.06 67.49 L7.66 68.99 L6.32 72.45Z" fill="#d8d8d8" stroke="#1a1a1a" stroke-width="0.64" />
<path d="M5.06 67.49 L7.74 65.94 L10.34 67.44 L7.66 68.99Z" fill="#d8d8d8" stroke="#1a1a1a" stroke-width="0.64" />
<path d="M7.74 65.94 L9.08 67.85 L11.68 69.35 L10.34 67.44Z" fill="#d8d8d8" stroke="#1a1a1a" stroke-width="0.64" />
<path d="M11.68 69.35 L10.34 72.81 L7.66 74.36 L6.32 72.45 L7.66 68.99 L10.34 67.44Z" fill="#e2e2e2" stroke="#1a1a1a" stroke-width="1.02" />
<path d="M7.85 72.89 L37.85 90.99 A1.33 2.3 30 0 0 40.15 87.01 L10.15 68.91 A1.33 2.3 30 0 0 7.85 72.89Z" fill="#e6e6e6" stroke="#1a1a1a" stroke-width="1.02" />
<ellipse cx="39" cy="89" rx="1.33" ry="2.3" transform="rotate(30 39 89)" fill="#f2f2f2" stroke="#1a1a1a" stroke-width="0.98"/>
<path d="M26.93 84.69 L37.85 90.99 A1.33 2.3 30 0 0 40.15 87.01 L29.23 80.7 A1.33 2.3 30 0 0 26.93 84.69Z" fill="#7c7c7c" stroke="#1a1a1a" stroke-width="1.02" />
<ellipse cx="39" cy="89" rx="1.33" ry="2.3" transform="rotate(30 39 89)" fill="#cfcfcf" stroke="#1a1a1a" stroke-width="0.98"/>
<ellipse cx="48.49" cy="96.95" rx="4.21" ry="7.3" transform="rotate(30 48.49 96.95)" fill="#aaa" stroke="#1a1a1a" stroke-width="1.22"/>
<ellipse cx="49.1" cy="97.3" rx="4.21" ry="7.3" transform="rotate(30 49.1 97.3)" fill="#ececec" stroke="#1a1a1a" stroke-width="1.28"/>
<ellipse cx="49.1" cy="97.3" rx="1.15" ry="2" transform="rotate(30 49.1 97.3)" fill="#fff" stroke="#1a1a1a" stroke-width="1.1"/>
<path d="M60.1 107.89 L74.7 117.69 A2.19 3.8 30 0 0 78.5 111.11 L63.9 101.31 A2.19 3.8 30 0 0 60.1 107.89Z" fill="#e2e2e2" stroke="#1a1a1a" stroke-width="1.02" />
<ellipse cx="76.6" cy="114.4" rx="2.19" ry="3.8" transform="rotate(30 76.6 114.4)" fill="#f0f0f0" stroke="#1a1a1a" stroke-width="0.98"/>
<ellipse cx="76.6" cy="114.4" rx="1.32" ry="2.28" transform="rotate(30 76.6 114.4)" fill="#fff" stroke="#1a1a1a" stroke-width="0.73"/>
<path d="M38.93 120.18 L37.18 124.69 L33.68 126.71 L31.93 124.22 L33.68 119.71 L37.18 117.69Z" fill="#cfcfcf" stroke="#1a1a1a" stroke-width="1.02" />
<path d="M38.93 120.18 L37.18 124.69 L39.95 126.29 L41.7 121.78Z" fill="#d8d8d8" stroke="#1a1a1a" stroke-width="0.64" />
<path d="M37.18 124.69 L33.68 126.71 L36.45 128.31 L39.95 126.29Z" fill="#d8d8d8" stroke="#1a1a1a" stroke-width="0.64" />
<path d="M33.68 126.71 L31.93 124.22 L34.7 125.82 L36.45 128.31Z" fill="#d8d8d8" stroke="#1a1a1a" stroke-width="0.64" />
<path d="M31.93 124.22 L33.68 119.71 L36.45 121.31 L34.7 125.82Z" fill="#d8d8d8" stroke="#1a1a1a" stroke-width="0.64" />
<path d="M33.68 119.71 L37.18 117.69 L39.95 119.29 L36.45 121.31Z" fill="#d8d8d8" stroke="#1a1a1a" stroke-width="0.64" />
<path d="M37.18 117.69 L38.93 120.18 L41.7 121.78 L39.95 119.29Z" fill="#d8d8d8" stroke="#1a1a1a" stroke-width="0.64" />
<path d="M41.7 121.78 L39.95 126.29 L36.45 128.31 L34.7 125.82 L36.45 121.31 L39.95 119.29Z" fill="#e2e2e2" stroke="#1a1a1a" stroke-width="1.02" />
<path d="M36.7 126.4 L48.1 132.9 A1.73 3 30 0 0 51.1 127.7 L39.7 121.2 A1.73 3 30 0 0 36.7 126.4Z" fill="#e6e6e6" stroke="#1a1a1a" stroke-width="1.02" />
<ellipse cx="49.6" cy="130.3" rx="1.73" ry="3" transform="rotate(30 49.6 130.3)" fill="#f2f2f2" stroke="#1a1a1a" stroke-width="0.98"/>
<path d="M39.58 127.98 L48.1 132.9 A1.73 3 30 0 0 51.1 127.7 L42.58 122.78 A1.73 3 30 0 0 39.58 127.98Z" fill="#7c7c7c" stroke="#1a1a1a" stroke-width="1.02" />
<ellipse cx="49.6" cy="130.3" rx="1.73" ry="3" transform="rotate(30 49.6 130.3)" fill="#cfcfcf" stroke="#1a1a1a" stroke-width="0.98"/>
<path d="M13.93 153.68 L12.18 158.19 L8.68 160.21 L6.93 157.72 L8.68 153.21 L12.18 151.19Z" fill="#cfcfcf" stroke="#1a1a1a" stroke-width="1.02" />
<path d="M13.93 153.68 L12.18 158.19 L14.95 159.79 L16.7 155.28Z" fill="#d8d8d8" stroke="#1a1a1a" stroke-width="0.64" />
<path d="M12.18 158.19 L8.68 160.21 L11.45 161.81 L14.95 159.79Z" fill="#d8d8d8" stroke="#1a1a1a" stroke-width="0.64" />
<path d="M8.68 160.21 L6.93 157.72 L9.7 159.32 L11.45 161.81Z" fill="#d8d8d8" stroke="#1a1a1a" stroke-width="0.64" />
<path d="M6.93 157.72 L8.68 153.21 L11.45 154.81 L9.7 159.32Z" fill="#d8d8d8" stroke="#1a1a1a" stroke-width="0.64" />
<path d="M8.68 153.21 L12.18 151.19 L14.95 152.79 L11.45 154.81Z" fill="#d8d8d8" stroke="#1a1a1a" stroke-width="0.64" />
<path d="M12.18 151.19 L13.93 153.68 L16.7 155.28 L14.95 152.79Z" fill="#d8d8d8" stroke="#1a1a1a" stroke-width="0.64" />
<path d="M16.7 155.28 L14.95 159.79 L11.45 161.81 L9.7 159.32 L11.45 154.81 L14.95 152.79Z" fill="#e2e2e2" stroke="#1a1a1a" stroke-width="1.02" />
<path d="M11.7 159.9 L23.5 166.6 A1.73 3 30 0 0 26.5 161.4 L14.7 154.7 A1.73 3 30 0 0 11.7 159.9Z" fill="#e6e6e6" stroke="#1a1a1a" stroke-width="1.02" />
<ellipse cx="25" cy="164" rx="1.73" ry="3" transform="rotate(30 25 164)" fill="#f2f2f2" stroke="#1a1a1a" stroke-width="0.98"/>
<path d="M14.69 161.51 L23.5 166.6 A1.73 3 30 0 0 26.5 161.4 L17.69 156.31 A1.73 3 30 0 0 14.69 161.51Z" fill="#7c7c7c" stroke="#1a1a1a" stroke-width="1.02" />
<ellipse cx="25" cy="164" rx="1.73" ry="3" transform="rotate(30 25 164)" fill="#cfcfcf" stroke="#1a1a1a" stroke-width="0.98"/>
<ellipse cx="34" cy="169.7" rx="2.25" ry="3.9" transform="rotate(30 34 169.7)" fill="#555" stroke="#1a1a1a" stroke-width="0.98"/>
<ellipse cx="35" cy="170.3" rx="2.25" ry="3.9" transform="rotate(30 35 170.3)" fill="#888" stroke="#1a1a1a" stroke-width="0.98"/>
<ellipse cx="35" cy="170.3" rx="1.13" ry="1.95" transform="rotate(30 35 170.3)" fill="#fff" stroke="#1a1a1a" stroke-width="0.85"/>
<ellipse cx="43.27" cy="175.45" rx="3.17" ry="5.5" transform="rotate(30 43.27 175.45)" fill="#aaa" stroke="#1a1a1a" stroke-width="1.22"/>
<ellipse cx="44.4" cy="176.1" rx="3.17" ry="5.5" transform="rotate(30 44.4 176.1)" fill="#ececec" stroke="#1a1a1a" stroke-width="1.28"/>
<ellipse cx="44.4" cy="176.1" rx="1.43" ry="2.48" transform="rotate(30 44.4 176.1)" fill="#fff" stroke="#1a1a1a" stroke-width="1.1"/>
<ellipse cx="182.07" cy="82.65" rx="2.54" ry="4.4" transform="rotate(30 182.07 82.65)" fill="#aaa" stroke="#1a1a1a" stroke-width="1.22"/>
<ellipse cx="183.2" cy="83.3" rx="2.54" ry="4.4" transform="rotate(30 183.2 83.3)" fill="#ececec" stroke="#1a1a1a" stroke-width="1.28"/>
<ellipse cx="183.2" cy="83.3" rx="1.21" ry="2.1" transform="rotate(30 183.2 83.3)" fill="#fff" stroke="#1a1a1a" stroke-width="1.1"/>
<path d="M195.62 87.77 L194 91.96 L190.75 93.84 L189.12 91.53 L190.75 87.34 L194 85.46Z" fill="#9a9a9a" stroke="#1a1a1a" stroke-width="1.41" />
<path d="M195.62 87.77 L194 91.96 L196.25 93.26 L197.88 89.07Z" fill="#a8a8a8" stroke="#1a1a1a" stroke-width="0.77" />
<path d="M194 91.96 L190.75 93.84 L193 95.14 L196.25 93.26Z" fill="#a8a8a8" stroke="#1a1a1a" stroke-width="0.77" />
<path d="M190.75 93.84 L189.12 91.53 L191.38 92.83 L193 95.14Z" fill="#a8a8a8" stroke="#1a1a1a" stroke-width="0.77" />
<path d="M189.12 91.53 L190.75 87.34 L193 88.64 L191.38 92.83Z" fill="#a8a8a8" stroke="#1a1a1a" stroke-width="0.77" />
<path d="M190.75 87.34 L194 85.46 L196.25 86.76 L193 88.64Z" fill="#a8a8a8" stroke="#1a1a1a" stroke-width="0.77" />
<path d="M194 85.46 L195.62 87.77 L197.88 89.07 L196.25 86.76Z" fill="#a8a8a8" stroke="#1a1a1a" stroke-width="0.77" />
<path d="M197.88 89.07 L196.25 93.26 L193 95.14 L191.38 92.83 L193 88.64 L196.25 86.76Z" fill="#d2d2d2" stroke="#1a1a1a" stroke-width="1.28" />
<ellipse cx="194.63" cy="90.95" rx="1.33" ry="2.3" transform="rotate(30 194.63 90.95)" fill="#8c8c8c" stroke="#1a1a1a" stroke-width="0.98"/>
<ellipse cx="194.93" cy="91.15" rx="0.74" ry="1.29" transform="rotate(30 194.93 91.15)" fill="#e4e4e4" stroke="#1a1a1a" stroke-width="0.49"/>
<path d="M103.81 128.43 L102.43 131.99 L99.67 133.58 L98.29 131.62 L99.67 128.06 L102.43 126.47Z" fill="#333" stroke="#1a1a1a" stroke-width="1.41" />
<path d="M103.81 128.43 L102.43 131.99 L103.73 132.74 L105.11 129.18Z" fill="#444" stroke="#1a1a1a" stroke-width="0.77" />
<path d="M102.43 131.99 L99.67 133.58 L100.97 134.33 L103.73 132.74Z" fill="#444" stroke="#1a1a1a" stroke-width="0.77" />
<path d="M99.67 133.58 L98.29 131.62 L99.59 132.37 L100.97 134.33Z" fill="#444" stroke="#1a1a1a" stroke-width="0.77" />
<path d="M98.29 131.62 L99.67 128.06 L100.97 128.81 L99.59 132.37Z" fill="#444" stroke="#1a1a1a" stroke-width="0.77" />
<path d="M99.67 128.06 L102.43 126.47 L103.73 127.22 L100.97 128.81Z" fill="#444" stroke="#1a1a1a" stroke-width="0.77" />
<path d="M102.43 126.47 L103.81 128.43 L105.11 129.18 L103.73 127.22Z" fill="#444" stroke="#1a1a1a" stroke-width="0.77" />
<path d="M105.11 129.18 L103.73 132.74 L100.97 134.33 L99.59 132.37 L100.97 128.81 L103.73 127.22Z" fill="#666" stroke="#1a1a1a" stroke-width="1.28" />
<ellipse cx="102.35" cy="130.78" rx="1.13" ry="1.95" transform="rotate(30 102.35 130.78)" fill="#222" stroke="#1a1a1a" stroke-width="0.98"/>
<ellipse cx="102.65" cy="130.97" rx="0.63" ry="1.09" transform="rotate(30 102.65 130.97)" fill="#bbb" stroke="#1a1a1a" stroke-width="0.49"/>
<path d="M113.41 135.4 L111.89 139.31 L108.85 141.07 L107.34 138.9 L108.85 134.99 L111.89 133.23Z" fill="#333" stroke="#1a1a1a" stroke-width="1.41" />
<path d="M113.41 135.4 L111.89 139.31 L114.15 140.61 L115.66 136.7Z" fill="#444" stroke="#1a1a1a" stroke-width="0.77" />
<path d="M111.89 139.31 L108.85 141.07 L111.11 142.37 L114.15 140.61Z" fill="#444" stroke="#1a1a1a" stroke-width="0.77" />
<path d="M108.85 141.07 L107.34 138.9 L109.59 140.2 L111.11 142.37Z" fill="#444" stroke="#1a1a1a" stroke-width="0.77" />
<path d="M107.34 138.9 L108.85 134.99 L111.11 136.29 L109.59 140.2Z" fill="#444" stroke="#1a1a1a" stroke-width="0.77" />
<path d="M108.85 134.99 L111.89 133.23 L114.15 134.53 L111.11 136.29Z" fill="#444" stroke="#1a1a1a" stroke-width="0.77" />
<path d="M111.89 133.23 L113.41 135.4 L115.66 136.7 L114.15 134.53Z" fill="#444" stroke="#1a1a1a" stroke-width="0.77" />
<path d="M115.66 136.7 L114.15 140.61 L111.11 142.37 L109.59 140.2 L111.11 136.29 L114.15 134.53Z" fill="#666" stroke="#1a1a1a" stroke-width="1.28" />
<ellipse cx="112.63" cy="138.45" rx="1.24" ry="2.15" transform="rotate(30 112.63 138.45)" fill="#222" stroke="#1a1a1a" stroke-width="0.98"/>
<ellipse cx="112.93" cy="138.65" rx="0.69" ry="1.2" transform="rotate(30 112.93 138.65)" fill="#bbb" stroke="#1a1a1a" stroke-width="0.49"/>
<ellipse cx="141.77" cy="182.95" rx="3.17" ry="5.5" transform="rotate(30 141.77 182.95)" fill="#aaa" stroke="#1a1a1a" stroke-width="1.22"/>
<ellipse cx="142.9" cy="183.6" rx="3.17" ry="5.5" transform="rotate(30 142.9 183.6)" fill="#ececec" stroke="#1a1a1a" stroke-width="1.28"/>
<ellipse cx="142.9" cy="183.6" rx="1.43" ry="2.48" transform="rotate(30 142.9 183.6)" fill="#fff" stroke="#1a1a1a" stroke-width="1.1"/>
<path d="M155.83 186.87 L153.85 191.96 L149.9 194.25 L147.92 191.43 L149.9 186.34 L153.85 184.05Z" fill="#9a9a9a" stroke="#1a1a1a" stroke-width="1.41" />
<path d="M155.83 186.87 L153.85 191.96 L156.1 193.26 L158.08 188.17Z" fill="#a8a8a8" stroke="#1a1a1a" stroke-width="0.77" />
<path d="M153.85 191.96 L149.9 194.25 L152.15 195.55 L156.1 193.26Z" fill="#a8a8a8" stroke="#1a1a1a" stroke-width="0.77" />
<path d="M149.9 194.25 L147.92 191.43 L150.17 192.73 L152.15 195.55Z" fill="#a8a8a8" stroke="#1a1a1a" stroke-width="0.77" />
<path d="M147.92 191.43 L149.9 186.34 L152.15 187.64 L150.17 192.73Z" fill="#a8a8a8" stroke="#1a1a1a" stroke-width="0.77" />
<path d="M149.9 186.34 L153.85 184.05 L156.1 185.35 L152.15 187.64Z" fill="#a8a8a8" stroke="#1a1a1a" stroke-width="0.77" />
<path d="M153.85 184.05 L155.83 186.87 L158.08 188.17 L156.1 185.35Z" fill="#a8a8a8" stroke="#1a1a1a" stroke-width="0.77" />
<path d="M158.08 188.17 L156.1 193.26 L152.15 195.55 L150.17 192.73 L152.15 187.64 L156.1 185.35Z" fill="#d2d2d2" stroke="#1a1a1a" stroke-width="1.28" />
<ellipse cx="154.13" cy="190.45" rx="1.62" ry="2.8" transform="rotate(30 154.13 190.45)" fill="#8c8c8c" stroke="#1a1a1a" stroke-width="0.98"/>
<ellipse cx="154.43" cy="190.65" rx="0.9" ry="1.57" transform="rotate(30 154.43 190.65)" fill="#e4e4e4" stroke="#1a1a1a" stroke-width="0.49"/>
<path d="M397.33 327.37 L395.35 332.46 L391.4 334.75 L389.42 331.93 L391.4 326.84 L395.35 324.55Z" fill="#9a9a9a" stroke="#1a1a1a" stroke-width="1.41" />
<path d="M397.33 327.37 L395.35 332.46 L397.6 333.76 L399.58 328.67Z" fill="#a8a8a8" stroke="#1a1a1a" stroke-width="0.77" />
<path d="M395.35 332.46 L391.4 334.75 L393.65 336.05 L397.6 333.76Z" fill="#a8a8a8" stroke="#1a1a1a" stroke-width="0.77" />
<path d="M391.4 334.75 L389.42 331.93 L391.67 333.23 L393.65 336.05Z" fill="#a8a8a8" stroke="#1a1a1a" stroke-width="0.77" />
<path d="M389.42 331.93 L391.4 326.84 L393.65 328.14 L391.67 333.23Z" fill="#a8a8a8" stroke="#1a1a1a" stroke-width="0.77" />
<path d="M391.4 326.84 L395.35 324.55 L397.6 325.85 L393.65 328.14Z" fill="#a8a8a8" stroke="#1a1a1a" stroke-width="0.77" />
<path d="M395.35 324.55 L397.33 327.37 L399.58 328.67 L397.6 325.85Z" fill="#a8a8a8" stroke="#1a1a1a" stroke-width="0.77" />
<path d="M399.58 328.67 L397.6 333.76 L393.65 336.05 L391.67 333.23 L393.65 328.14 L397.6 325.85Z" fill="#d2d2d2" stroke="#1a1a1a" stroke-width="1.28" />
<ellipse cx="395.63" cy="330.95" rx="1.62" ry="2.8" transform="rotate(30 395.63 330.95)" fill="#8c8c8c" stroke="#1a1a1a" stroke-width="0.98"/>
<ellipse cx="395.93" cy="331.15" rx="0.9" ry="1.57" transform="rotate(30 395.93 331.15)" fill="#e4e4e4" stroke="#1a1a1a" stroke-width="0.49"/>
<ellipse cx="406.27" cy="336.45" rx="3.17" ry="5.5" transform="rotate(30 406.27 336.45)" fill="#aaa" stroke="#1a1a1a" stroke-width="1.22"/>
<ellipse cx="407.4" cy="337.1" rx="3.17" ry="5.5" transform="rotate(30 407.4 337.1)" fill="#ececec" stroke="#1a1a1a" stroke-width="1.28"/>
<ellipse cx="407.4" cy="337.1" rx="1.43" ry="2.48" transform="rotate(30 407.4 337.1)" fill="#fff" stroke="#1a1a1a" stroke-width="1.1"/>
<path d="M435.12 319.27 L433.5 323.46 L430.25 325.34 L428.62 323.03 L430.25 318.84 L433.5 316.96Z" fill="#9a9a9a" stroke="#1a1a1a" stroke-width="1.41" />
<path d="M435.12 319.27 L433.5 323.46 L435.75 324.76 L437.38 320.57Z" fill="#a8a8a8" stroke="#1a1a1a" stroke-width="0.77" />
<path d="M433.5 323.46 L430.25 325.34 L432.5 326.64 L435.75 324.76Z" fill="#a8a8a8" stroke="#1a1a1a" stroke-width="0.77" />
<path d="M430.25 325.34 L428.62 323.03 L430.88 324.33 L432.5 326.64Z" fill="#a8a8a8" stroke="#1a1a1a" stroke-width="0.77" />
<path d="M428.62 323.03 L430.25 318.84 L432.5 320.14 L430.88 324.33Z" fill="#a8a8a8" stroke="#1a1a1a" stroke-width="0.77" />
<path d="M430.25 318.84 L433.5 316.96 L435.75 318.26 L432.5 320.14Z" fill="#a8a8a8" stroke="#1a1a1a" stroke-width="0.77" />
<path d="M433.5 316.96 L435.12 319.27 L437.38 320.57 L435.75 318.26Z" fill="#a8a8a8" stroke="#1a1a1a" stroke-width="0.77" />
<path d="M437.38 320.57 L435.75 324.76 L432.5 326.64 L430.88 324.33 L432.5 320.14 L435.75 318.26Z" fill="#d2d2d2" stroke="#1a1a1a" stroke-width="1.28" />
<ellipse cx="434.13" cy="322.45" rx="1.33" ry="2.3" transform="rotate(30 434.13 322.45)" fill="#8c8c8c" stroke="#1a1a1a" stroke-width="0.98"/>
<ellipse cx="434.43" cy="322.65" rx="0.74" ry="1.29" transform="rotate(30 434.43 322.65)" fill="#e4e4e4" stroke="#1a1a1a" stroke-width="0.49"/>
<ellipse cx="442.27" cy="326.45" rx="2.54" ry="4.4" transform="rotate(30 442.27 326.45)" fill="#aaa" stroke="#1a1a1a" stroke-width="1.22"/>
<ellipse cx="443.4" cy="327.1" rx="2.54" ry="4.4" transform="rotate(30 443.4 327.1)" fill="#ececec" stroke="#1a1a1a" stroke-width="1.28"/>
<ellipse cx="443.4" cy="327.1" rx="1.21" ry="2.1" transform="rotate(30 443.4 327.1)" fill="#fff" stroke="#1a1a1a" stroke-width="1.1"/>
<path d="M516.62 273.07 L515 277.26 L511.75 279.14 L510.12 276.83 L511.75 272.64 L515 270.76Z" fill="#9a9a9a" stroke="#1a1a1a" stroke-width="1.41" />
<path d="M516.62 273.07 L515 277.26 L517.25 278.56 L518.88 274.37Z" fill="#a8a8a8" stroke="#1a1a1a" stroke-width="0.77" />
<path d="M515 277.26 L511.75 279.14 L514 280.44 L517.25 278.56Z" fill="#a8a8a8" stroke="#1a1a1a" stroke-width="0.77" />
<path d="M511.75 279.14 L510.12 276.83 L512.38 278.13 L514 280.44Z" fill="#a8a8a8" stroke="#1a1a1a" stroke-width="0.77" />
<path d="M510.12 276.83 L511.75 272.64 L514 273.94 L512.38 278.13Z" fill="#a8a8a8" stroke="#1a1a1a" stroke-width="0.77" />
<path d="M511.75 272.64 L515 270.76 L517.25 272.06 L514 273.94Z" fill="#a8a8a8" stroke="#1a1a1a" stroke-width="0.77" />
<path d="M515 270.76 L516.62 273.07 L518.88 274.37 L517.25 272.06Z" fill="#a8a8a8" stroke="#1a1a1a" stroke-width="0.77" />
<path d="M518.88 274.37 L517.25 278.56 L514 280.44 L512.38 278.13 L514 273.94 L517.25 272.06Z" fill="#d2d2d2" stroke="#1a1a1a" stroke-width="1.28" />
<ellipse cx="515.63" cy="276.25" rx="1.33" ry="2.3" transform="rotate(30 515.63 276.25)" fill="#8c8c8c" stroke="#1a1a1a" stroke-width="0.98"/>
<ellipse cx="515.93" cy="276.45" rx="0.74" ry="1.29" transform="rotate(30 515.93 276.45)" fill="#e4e4e4" stroke="#1a1a1a" stroke-width="0.49"/>
<ellipse cx="522.97" cy="279.05" rx="2.54" ry="4.4" transform="rotate(30 522.97 279.05)" fill="#aaa" stroke="#1a1a1a" stroke-width="1.22"/>
<ellipse cx="524.1" cy="279.7" rx="2.54" ry="4.4" transform="rotate(30 524.1 279.7)" fill="#ececec" stroke="#1a1a1a" stroke-width="1.28"/>
<ellipse cx="524.1" cy="279.7" rx="1.21" ry="2.1" transform="rotate(30 524.1 279.7)" fill="#fff" stroke="#1a1a1a" stroke-width="1.1"/>
<path d="M555.1 301.79 L571.6 311.29 A2.19 3.8 30 0 0 575.4 304.71 L558.9 295.21 A2.19 3.8 30 0 0 555.1 301.79Z" fill="#e2e2e2" stroke="#1a1a1a" stroke-width="1.02" />
<ellipse cx="573.5" cy="308" rx="2.19" ry="3.8" transform="rotate(30 573.5 308)" fill="#f0f0f0" stroke="#1a1a1a" stroke-width="0.98"/>
<ellipse cx="573.5" cy="308" rx="1.32" ry="2.28" transform="rotate(30 573.5 308)" fill="#fff" stroke="#1a1a1a" stroke-width="0.73"/>
<ellipse cx="586.79" cy="313.75" rx="4.21" ry="7.3" transform="rotate(30 586.79 313.75)" fill="#aaa" stroke="#1a1a1a" stroke-width="1.22"/>
<ellipse cx="587.4" cy="314.1" rx="4.21" ry="7.3" transform="rotate(30 587.4 314.1)" fill="#ececec" stroke="#1a1a1a" stroke-width="1.28"/>
<ellipse cx="587.4" cy="314.1" rx="1.15" ry="2" transform="rotate(30 587.4 314.1)" fill="#fff" stroke="#1a1a1a" stroke-width="1.1"/>
<path d="M596.85 321.69 L626.35 335.69 A1.33 2.3 30 0 0 628.65 331.71 L599.15 317.71 A1.33 2.3 30 0 0 596.85 321.69Z" fill="#e6e6e6" stroke="#1a1a1a" stroke-width="1.02" />
<path d="M596.85 321.69 L604.2 325.94 A1.33 2.3 30 0 0 606.5 321.95 L599.15 317.71 A1.33 2.3 30 0 0 596.85 321.69Z" fill="#7c7c7c" stroke="#1a1a1a" stroke-width="1.02" />
<path d="M630.18 332.15 L628.84 335.61 L626.16 337.16 L624.82 335.25 L626.16 331.79 L628.84 330.24Z" fill="#cfcfcf" stroke="#1a1a1a" stroke-width="1.02" />
<path d="M630.18 332.15 L628.84 335.61 L631.44 337.11 L632.78 333.65Z" fill="#d0d0d0" stroke="#1a1a1a" stroke-width="0.64" />
<path d="M628.84 335.61 L626.16 337.16 L628.76 338.66 L631.44 337.11Z" fill="#d0d0d0" stroke="#1a1a1a" stroke-width="0.64" />
<path d="M626.16 337.16 L624.82 335.25 L627.42 336.75 L628.76 338.66Z" fill="#d0d0d0" stroke="#1a1a1a" stroke-width="0.64" />
<path d="M624.82 335.25 L626.16 331.79 L628.76 333.29 L627.42 336.75Z" fill="#d0d0d0" stroke="#1a1a1a" stroke-width="0.64" />
<path d="M626.16 331.79 L628.84 330.24 L631.44 331.74 L628.76 333.29Z" fill="#d0d0d0" stroke="#1a1a1a" stroke-width="0.64" />
<path d="M628.84 330.24 L630.18 332.15 L632.78 333.65 L631.44 331.74Z" fill="#d0d0d0" stroke="#1a1a1a" stroke-width="0.64" />
<path d="M632.78 333.65 L631.44 337.11 L628.76 338.66 L627.42 336.75 L628.76 333.29 L631.44 331.74Z" fill="#ececec" stroke="#1a1a1a" stroke-width="1.02" />
<ellipse cx="630.1" cy="335.2" rx="1.58" ry="2.73" transform="rotate(30 630.1 335.2)" fill="#f6f6f6" stroke="#1a1a1a" stroke-width="0.61"/>
<path d="M473.9 347.12 L492.2 356.42 A2.08 3.6 30 0 0 495.8 350.18 L477.5 340.88 A2.08 3.6 30 0 0 473.9 347.12Z" fill="#e2e2e2" stroke="#1a1a1a" stroke-width="1.02" />
<ellipse cx="494" cy="353.3" rx="2.08" ry="3.6" transform="rotate(30 494 353.3)" fill="#f0f0f0" stroke="#1a1a1a" stroke-width="0.98"/>
<ellipse cx="494" cy="353.3" rx="1.25" ry="2.16" transform="rotate(30 494 353.3)" fill="#fff" stroke="#1a1a1a" stroke-width="0.73"/>
<ellipse cx="504.79" cy="360.75" rx="4.21" ry="7.3" transform="rotate(30 504.79 360.75)" fill="#aaa" stroke="#1a1a1a" stroke-width="1.22"/>
<ellipse cx="505.4" cy="361.1" rx="4.21" ry="7.3" transform="rotate(30 505.4 361.1)" fill="#ececec" stroke="#1a1a1a" stroke-width="1.28"/>
<ellipse cx="505.4" cy="361.1" rx="1.15" ry="2" transform="rotate(30 505.4 361.1)" fill="#fff" stroke="#1a1a1a" stroke-width="1.1"/>
<path d="M515.35 366.99 L544.85 382.59 A1.33 2.3 30 0 0 547.15 378.61 L517.65 363.01 A1.33 2.3 30 0 0 515.35 366.99Z" fill="#e6e6e6" stroke="#1a1a1a" stroke-width="1.02" />
<path d="M515.35 366.99 L522.86 371.33 A1.33 2.3 30 0 0 525.16 367.35 L517.65 363.01 A1.33 2.3 30 0 0 515.35 366.99Z" fill="#7c7c7c" stroke="#1a1a1a" stroke-width="1.02" />
<path d="M548.68 379.05 L547.34 382.51 L544.66 384.06 L543.32 382.15 L544.66 378.69 L547.34 377.14Z" fill="#cfcfcf" stroke="#1a1a1a" stroke-width="1.02" />
<path d="M548.68 379.05 L547.34 382.51 L549.94 384.01 L551.28 380.55Z" fill="#d0d0d0" stroke="#1a1a1a" stroke-width="0.64" />
<path d="M547.34 382.51 L544.66 384.06 L547.26 385.56 L549.94 384.01Z" fill="#d0d0d0" stroke="#1a1a1a" stroke-width="0.64" />
<path d="M544.66 384.06 L543.32 382.15 L545.92 383.65 L547.26 385.56Z" fill="#d0d0d0" stroke="#1a1a1a" stroke-width="0.64" />
<path d="M543.32 382.15 L544.66 378.69 L547.26 380.19 L545.92 383.65Z" fill="#d0d0d0" stroke="#1a1a1a" stroke-width="0.64" />
<path d="M544.66 378.69 L547.34 377.14 L549.94 378.64 L547.26 380.19Z" fill="#d0d0d0" stroke="#1a1a1a" stroke-width="0.64" />
<path d="M547.34 377.14 L548.68 379.05 L551.28 380.55 L549.94 378.64Z" fill="#d0d0d0" stroke="#1a1a1a" stroke-width="0.64" />
<path d="M551.28 380.55 L549.94 384.01 L547.26 385.56 L545.92 383.65 L547.26 380.19 L549.94 378.64Z" fill="#ececec" stroke="#1a1a1a" stroke-width="1.02" />
<ellipse cx="548.6" cy="382.1" rx="1.58" ry="2.73" transform="rotate(30 548.6 382.1)" fill="#f6f6f6" stroke="#1a1a1a" stroke-width="0.61"/>
<path d="M496.5 392.6 L508.1 398.9 A1.73 3 30 0 0 511.1 393.7 L499.5 387.4 A1.73 3 30 0 0 496.5 392.6Z" fill="#e6e6e6" stroke="#1a1a1a" stroke-width="1.02" />
<path d="M496.5 392.6 L506.22 398.21 A1.73 3 30 0 0 509.22 393.01 L499.5 387.4 A1.73 3 30 0 0 496.5 392.6Z" fill="#7c7c7c" stroke="#1a1a1a" stroke-width="1.02" />
<path d="M513.1 394.28 L511.35 398.79 L507.85 400.81 L506.1 398.32 L507.85 393.81 L511.35 391.79Z" fill="#cfcfcf" stroke="#1a1a1a" stroke-width="1.02" />
<path d="M513.1 394.28 L511.35 398.79 L513.95 400.29 L515.7 395.78Z" fill="#d0d0d0" stroke="#1a1a1a" stroke-width="0.64" />
<path d="M511.35 398.79 L507.85 400.81 L510.45 402.31 L513.95 400.29Z" fill="#d0d0d0" stroke="#1a1a1a" stroke-width="0.64" />
<path d="M507.85 400.81 L506.1 398.32 L508.7 399.82 L510.45 402.31Z" fill="#d0d0d0" stroke="#1a1a1a" stroke-width="0.64" />
<path d="M506.1 398.32 L507.85 393.81 L510.45 395.31 L508.7 399.82Z" fill="#d0d0d0" stroke="#1a1a1a" stroke-width="0.64" />
<path d="M507.85 393.81 L511.35 391.79 L513.95 393.29 L510.45 395.31Z" fill="#d0d0d0" stroke="#1a1a1a" stroke-width="0.64" />
<path d="M511.35 391.79 L513.1 394.28 L515.7 395.78 L513.95 393.29Z" fill="#d0d0d0" stroke="#1a1a1a" stroke-width="0.64" />
<path d="M515.7 395.78 L513.95 400.29 L510.45 402.31 L508.7 399.82 L510.45 395.31 L513.95 393.29Z" fill="#ececec" stroke="#1a1a1a" stroke-width="1.02" />
<ellipse cx="512.2" cy="397.8" rx="2.06" ry="3.56" transform="rotate(30 512.2 397.8)" fill="#f6f6f6" stroke="#1a1a1a" stroke-width="0.61"/>
<path d="M475.1 428.2 L486.5 434.6 A1.73 3 30 0 0 489.5 429.4 L478.1 423 A1.73 3 30 0 0 475.1 428.2Z" fill="#e6e6e6" stroke="#1a1a1a" stroke-width="1.02" />
<path d="M475.1 428.2 L484.72 433.75 A1.73 3 30 0 0 487.72 428.56 L478.1 423 A1.73 3 30 0 0 475.1 428.2Z" fill="#7c7c7c" stroke="#1a1a1a" stroke-width="1.02" />
<path d="M491.5 429.98 L489.75 434.49 L486.25 436.51 L484.5 434.02 L486.25 429.51 L489.75 427.49Z" fill="#cfcfcf" stroke="#1a1a1a" stroke-width="1.02" />
<path d="M491.5 429.98 L489.75 434.49 L492.35 435.99 L494.1 431.48Z" fill="#d0d0d0" stroke="#1a1a1a" stroke-width="0.64" />
<path d="M489.75 434.49 L486.25 436.51 L488.85 438.01 L492.35 435.99Z" fill="#d0d0d0" stroke="#1a1a1a" stroke-width="0.64" />
<path d="M486.25 436.51 L484.5 434.02 L487.1 435.52 L488.85 438.01Z" fill="#d0d0d0" stroke="#1a1a1a" stroke-width="0.64" />
<path d="M484.5 434.02 L486.25 429.51 L488.85 431.01 L487.1 435.52Z" fill="#d0d0d0" stroke="#1a1a1a" stroke-width="0.64" />
<path d="M486.25 429.51 L489.75 427.49 L492.35 428.99 L488.85 431.01Z" fill="#d0d0d0" stroke="#1a1a1a" stroke-width="0.64" />
<path d="M489.75 427.49 L491.5 429.98 L494.1 431.48 L492.35 428.99Z" fill="#d0d0d0" stroke="#1a1a1a" stroke-width="0.64" />
<path d="M494.1 431.48 L492.35 435.99 L488.85 438.01 L487.1 435.52 L488.85 431.01 L492.35 428.99Z" fill="#ececec" stroke="#1a1a1a" stroke-width="1.02" />
<ellipse cx="490.6" cy="433.5" rx="2.06" ry="3.56" transform="rotate(30 490.6 433.5)" fill="#f6f6f6" stroke="#1a1a1a" stroke-width="0.61"/>
<ellipse cx="458.67" cy="415.95" rx="3.17" ry="5.5" transform="rotate(30 458.67 415.95)" fill="#aaa" stroke="#1a1a1a" stroke-width="1.22"/>
<ellipse cx="459.8" cy="416.6" rx="3.17" ry="5.5" transform="rotate(30 459.8 416.6)" fill="#ececec" stroke="#1a1a1a" stroke-width="1.28"/>
<ellipse cx="459.8" cy="416.6" rx="1.43" ry="2.48" transform="rotate(30 459.8 416.6)" fill="#fff" stroke="#1a1a1a" stroke-width="1.1"/>
<ellipse cx="468.8" cy="421" rx="2.25" ry="3.9" transform="rotate(30 468.8 421)" fill="#555" stroke="#1a1a1a" stroke-width="0.98"/>
<ellipse cx="469.8" cy="421.6" rx="2.25" ry="3.9" transform="rotate(30 469.8 421.6)" fill="#888" stroke="#1a1a1a" stroke-width="0.98"/>
<ellipse cx="469.8" cy="421.6" rx="1.13" ry="1.95" transform="rotate(30 469.8 421.6)" fill="#fff" stroke="#1a1a1a" stroke-width="0.85"/>
<path d="M145.43 288.68 L143.68 293.19 L140.18 295.21 L138.43 292.72 L140.18 288.21 L143.68 286.19Z" fill="#cfcfcf" stroke="#1a1a1a" stroke-width="1.02" />
<path d="M145.43 288.68 L143.68 293.19 L146.45 294.79 L148.2 290.28Z" fill="#d8d8d8" stroke="#1a1a1a" stroke-width="0.64" />
<path d="M143.68 293.19 L140.18 295.21 L142.95 296.81 L146.45 294.79Z" fill="#d8d8d8" stroke="#1a1a1a" stroke-width="0.64" />
<path d="M140.18 295.21 L138.43 292.72 L141.2 294.32 L142.95 296.81Z" fill="#d8d8d8" stroke="#1a1a1a" stroke-width="0.64" />
<path d="M138.43 292.72 L140.18 288.21 L142.95 289.81 L141.2 294.32Z" fill="#d8d8d8" stroke="#1a1a1a" stroke-width="0.64" />
<path d="M140.18 288.21 L143.68 286.19 L146.45 287.79 L142.95 289.81Z" fill="#d8d8d8" stroke="#1a1a1a" stroke-width="0.64" />
<path d="M143.68 286.19 L145.43 288.68 L148.2 290.28 L146.45 287.79Z" fill="#d8d8d8" stroke="#1a1a1a" stroke-width="0.64" />
<path d="M148.2 290.28 L146.45 294.79 L142.95 296.81 L141.2 294.32 L142.95 289.81 L146.45 287.79Z" fill="#e2e2e2" stroke="#1a1a1a" stroke-width="1.02" />
<path d="M143.2 294.9 L155.1 301.8 A1.73 3 30 0 0 158.1 296.6 L146.2 289.7 A1.73 3 30 0 0 143.2 294.9Z" fill="#e6e6e6" stroke="#1a1a1a" stroke-width="1.02" />
<ellipse cx="156.6" cy="299.2" rx="1.73" ry="3" transform="rotate(30 156.6 299.2)" fill="#f2f2f2" stroke="#1a1a1a" stroke-width="0.98"/>
<path d="M146.17 296.64 L155.1 301.8 A1.73 3 30 0 0 158.1 296.6 L149.17 291.44 A1.73 3 30 0 0 146.17 296.64Z" fill="#7c7c7c" stroke="#1a1a1a" stroke-width="1.02" />
<ellipse cx="156.6" cy="299.2" rx="1.73" ry="3" transform="rotate(30 156.6 299.2)" fill="#cfcfcf" stroke="#1a1a1a" stroke-width="0.98"/>
<ellipse cx="280.27" cy="372.95" rx="3.17" ry="5.5" transform="rotate(30 280.27 372.95)" fill="#aaa" stroke="#1a1a1a" stroke-width="1.22"/>
<ellipse cx="281.4" cy="373.6" rx="3.17" ry="5.5" transform="rotate(30 281.4 373.6)" fill="#ececec" stroke="#1a1a1a" stroke-width="1.28"/>
<ellipse cx="281.4" cy="373.6" rx="1.43" ry="2.48" transform="rotate(30 281.4 373.6)" fill="#fff" stroke="#1a1a1a" stroke-width="1.1"/>
<path d="M298.33 378.87 L296.35 383.96 L292.4 386.25 L290.42 383.43 L292.4 378.34 L296.35 376.05Z" fill="#9a9a9a" stroke="#1a1a1a" stroke-width="1.41" />
<path d="M298.33 378.87 L296.35 383.96 L298.6 385.26 L300.58 380.17Z" fill="#a8a8a8" stroke="#1a1a1a" stroke-width="0.77" />
<path d="M296.35 383.96 L292.4 386.25 L294.65 387.55 L298.6 385.26Z" fill="#a8a8a8" stroke="#1a1a1a" stroke-width="0.77" />
<path d="M292.4 386.25 L290.42 383.43 L292.67 384.73 L294.65 387.55Z" fill="#a8a8a8" stroke="#1a1a1a" stroke-width="0.77" />
<path d="M290.42 383.43 L292.4 378.34 L294.65 379.64 L292.67 384.73Z" fill="#a8a8a8" stroke="#1a1a1a" stroke-width="0.77" />
<path d="M292.4 378.34 L296.35 376.05 L298.6 377.35 L294.65 379.64Z" fill="#a8a8a8" stroke="#1a1a1a" stroke-width="0.77" />
<path d="M296.35 376.05 L298.33 378.87 L300.58 380.17 L298.6 377.35Z" fill="#a8a8a8" stroke="#1a1a1a" stroke-width="0.77" />
<path d="M300.58 380.17 L298.6 385.26 L294.65 387.55 L292.67 384.73 L294.65 379.64 L298.6 377.35Z" fill="#d2d2d2" stroke="#1a1a1a" stroke-width="1.28" />
<ellipse cx="296.63" cy="382.45" rx="1.62" ry="2.8" transform="rotate(30 296.63 382.45)" fill="#8c8c8c" stroke="#1a1a1a" stroke-width="0.98"/>
<ellipse cx="296.93" cy="382.65" rx="0.9" ry="1.57" transform="rotate(30 296.93 382.65)" fill="#e4e4e4" stroke="#1a1a1a" stroke-width="0.49"/>
</g>
<g id="labels">
<text x="115.8" y="7.8" font-size="10" fill="#4a4a4a" text-anchor="start" font-style="italic" font-weight="normal" textLength="8" lengthAdjust="spacingAndGlyphs" >15</text>
<line x1="109.7" y1="10.5" x2="126.2" y2="10.5" stroke="#1a1a1a" stroke-width="1.04"/>
<line x1="109.7" y1="10.5" x2="99" y2="28" stroke="#1a1a1a" stroke-width="1.04"/>
<text x="90.5" y="46.8" font-size="10" fill="#4a4a4a" text-anchor="start" font-style="italic" font-weight="normal" textLength="8" lengthAdjust="spacingAndGlyphs" >22</text>
<line x1="85" y1="49.5" x2="104" y2="49.5" stroke="#1a1a1a" stroke-width="1.04"/>
<line x1="104" y1="49.5" x2="124" y2="52.5" stroke="#1a1a1a" stroke-width="1.04"/>
<text x="167.8" y="37.1" font-size="10" fill="#4a4a4a" text-anchor="start" font-style="italic" font-weight="normal" textLength="4" lengthAdjust="spacingAndGlyphs" >4</text>
<line x1="161.2" y1="39.8" x2="178.5" y2="39.8" stroke="#1a1a1a" stroke-width="1.04"/>
<line x1="161.2" y1="39.8" x2="151.5" y2="61" stroke="#1a1a1a" stroke-width="1.04"/>
<text x="32.2" y="47.6" font-size="10" fill="#4a4a4a" text-anchor="start" font-style="italic" font-weight="normal" textLength="8" lengthAdjust="spacingAndGlyphs" >15</text>
<line x1="26.6" y1="50.3" x2="43.6" y2="50.3" stroke="#1a1a1a" stroke-width="1.04"/>
<line x1="26.6" y1="50.3" x2="13.5" y2="71" stroke="#1a1a1a" stroke-width="1.04"/>
<text x="36.5" y="65.1" font-size="10" fill="#4a4a4a" text-anchor="start" font-style="italic" font-weight="normal" textLength="8" lengthAdjust="spacingAndGlyphs" >22</text>
<line x1="32" y1="67.8" x2="48.2" y2="67.8" stroke="#1a1a1a" stroke-width="1.04"/>
<line x1="48.2" y1="67.8" x2="51.5" y2="90.6" stroke="#1a1a1a" stroke-width="1.04"/>
<text x="69" y="65.1" font-size="10" fill="#4a4a4a" text-anchor="start" font-style="italic" font-weight="normal" textLength="4" lengthAdjust="spacingAndGlyphs" >4</text>
<line x1="62.8" y1="67.8" x2="78.4" y2="67.8" stroke="#1a1a1a" stroke-width="1.04"/>
<line x1="63.1" y1="67.8" x2="69" y2="107" stroke="#1a1a1a" stroke-width="1.04"/>
<text x="5.5" y="103.6" font-size="10" fill="#4a4a4a" text-anchor="start" font-style="italic" font-weight="normal" textLength="8" lengthAdjust="spacingAndGlyphs" >16</text>
<line x1="0" y1="106.3" x2="16.6" y2="106.3" stroke="#1a1a1a" stroke-width="1.04"/>
<line x1="16.6" y1="106.3" x2="35.7" y2="120" stroke="#1a1a1a" stroke-width="1.04"/>
<line x1="16.6" y1="106.3" x2="12.6" y2="151.5" stroke="#1a1a1a" stroke-width="1.04"/>
<text x="11" y="184.8" font-size="10" fill="#4a4a4a" text-anchor="start" font-style="italic" font-weight="normal" textLength="8" lengthAdjust="spacingAndGlyphs" >19</text>
<line x1="6" y1="187.5" x2="21" y2="187.5" stroke="#1a1a1a" stroke-width="1.04"/>
<line x1="21" y1="187.5" x2="34" y2="172.5" stroke="#1a1a1a" stroke-width="1.04"/>
<text x="10" y="201.3" font-size="10" fill="#4a4a4a" text-anchor="start" font-style="italic" font-weight="normal" textLength="8" lengthAdjust="spacingAndGlyphs" >21</text>
<line x1="5" y1="204" x2="21" y2="204" stroke="#1a1a1a" stroke-width="1.04"/>
<line x1="21" y1="204" x2="42.5" y2="179" stroke="#1a1a1a" stroke-width="1.04"/>
<text x="216.4" y="100.3" font-size="10" fill="#4a4a4a" text-anchor="start" font-style="italic" font-weight="normal" textLength="8" lengthAdjust="spacingAndGlyphs" >17</text>
<line x1="210.8" y1="103" x2="227.4" y2="103" stroke="#1a1a1a" stroke-width="1.04"/>
<line x1="210.8" y1="103" x2="196.5" y2="91.5" stroke="#1a1a1a" stroke-width="1.04"/>
<text x="206.8" y="115.8" font-size="10" fill="#4a4a4a" text-anchor="start" font-style="italic" font-weight="normal" textLength="8" lengthAdjust="spacingAndGlyphs" >20</text>
<line x1="202.2" y1="118.5" x2="217.8" y2="118.5" stroke="#1a1a1a" stroke-width="1.04"/>
<line x1="202.2" y1="118.5" x2="183.5" y2="87" stroke="#1a1a1a" stroke-width="1.04"/>
<text x="177" y="138.1" font-size="10" fill="#4a4a4a" text-anchor="start" font-style="italic" font-weight="normal" textLength="8" lengthAdjust="spacingAndGlyphs" >17</text>
<line x1="171" y1="140.8" x2="187.5" y2="140.8" stroke="#1a1a1a" stroke-width="1.04"/>
<line x1="171" y1="140.8" x2="114" y2="135.6" stroke="#1a1a1a" stroke-width="1.04"/>
<text x="162" y="160.5" font-size="10" fill="#4a4a4a" text-anchor="start" font-style="italic" font-weight="normal" textLength="8" lengthAdjust="spacingAndGlyphs" >21</text>
<line x1="157.5" y1="163.2" x2="172.5" y2="163.2" stroke="#1a1a1a" stroke-width="1.04"/>
<line x1="157.5" y1="163.2" x2="144.5" y2="180.5" stroke="#1a1a1a" stroke-width="1.04"/>
<text x="186" y="160.5" font-size="10" fill="#4a4a4a" text-anchor="start" font-style="italic" font-weight="normal" textLength="8" lengthAdjust="spacingAndGlyphs" >18</text>
<line x1="180" y1="163.2" x2="196.4" y2="163.2" stroke="#1a1a1a" stroke-width="1.04"/>
<line x1="180" y1="163.2" x2="155.5" y2="186.5" stroke="#1a1a1a" stroke-width="1.04"/>
<text x="62.5" y="249.8" font-size="10" fill="#4a4a4a" text-anchor="start" font-style="italic" font-weight="normal" textLength="4" lengthAdjust="spacingAndGlyphs" >2</text>
<line x1="55.2" y1="252.5" x2="72.3" y2="252.5" stroke="#1a1a1a" stroke-width="1.04"/>
<line x1="72.3" y1="252.5" x2="86.5" y2="181" stroke="#1a1a1a" stroke-width="1.04"/>
<text x="322" y="276.3" font-size="10" fill="#4a4a4a" text-anchor="start" font-style="italic" font-weight="normal" textLength="4" lengthAdjust="spacingAndGlyphs" >1</text>
<line x1="315" y1="279" x2="331" y2="279" stroke="#1a1a1a" stroke-width="1.04"/>
<line x1="315" y1="279" x2="284" y2="302" stroke="#1a1a1a" stroke-width="1.04"/>
<text x="380" y="276.3" font-size="10" fill="#4a4a4a" text-anchor="start" font-style="italic" font-weight="normal" textLength="8" lengthAdjust="spacingAndGlyphs" >21</text>
<line x1="375" y1="279" x2="391" y2="279" stroke="#1a1a1a" stroke-width="1.04"/>
<line x1="391" y1="279" x2="409" y2="332.5" stroke="#1a1a1a" stroke-width="1.04"/>
<text x="415" y="276.3" font-size="10" fill="#4a4a4a" text-anchor="start" font-style="italic" font-weight="normal" textLength="8" lengthAdjust="spacingAndGlyphs" >20</text>
<line x1="410" y1="279" x2="426" y2="279" stroke="#1a1a1a" stroke-width="1.04"/>
<line x1="426" y1="279" x2="444" y2="324" stroke="#1a1a1a" stroke-width="1.04"/>
<text x="374" y="295.3" font-size="10" fill="#4a4a4a" text-anchor="start" font-style="italic" font-weight="normal" textLength="8" lengthAdjust="spacingAndGlyphs" >18</text>
<line x1="369" y1="298" x2="385" y2="298" stroke="#1a1a1a" stroke-width="1.04"/>
<line x1="385" y1="298" x2="395" y2="326" stroke="#1a1a1a" stroke-width="1.04"/>
<text x="411" y="295.3" font-size="10" fill="#4a4a4a" text-anchor="start" font-style="italic" font-weight="normal" textLength="8" lengthAdjust="spacingAndGlyphs" >17</text>
<line x1="406" y1="298" x2="422.5" y2="298" stroke="#1a1a1a" stroke-width="1.04"/>
<line x1="422.5" y1="298" x2="432.5" y2="319" stroke="#1a1a1a" stroke-width="1.04"/>
<text x="492" y="259.8" font-size="10" fill="#4a4a4a" text-anchor="start" font-style="italic" font-weight="normal" textLength="8" lengthAdjust="spacingAndGlyphs" >17</text>
<line x1="487" y1="262.5" x2="504" y2="262.5" stroke="#1a1a1a" stroke-width="1.04"/>
<line x1="504" y1="262.5" x2="512" y2="272" stroke="#1a1a1a" stroke-width="1.04"/>
<text x="535.4" y="259.8" font-size="10" fill="#4a4a4a" text-anchor="start" font-style="italic" font-weight="normal" textLength="8" lengthAdjust="spacingAndGlyphs" >20</text>
<line x1="530.6" y1="262.5" x2="548" y2="262.5" stroke="#1a1a1a" stroke-width="1.04"/>
<line x1="530.6" y1="262.5" x2="524" y2="277.5" stroke="#1a1a1a" stroke-width="1.04"/>
<text x="491" y="291.8" font-size="10" fill="#4a4a4a" text-anchor="start" font-style="italic" font-weight="normal" textLength="4" lengthAdjust="spacingAndGlyphs" >3</text>
<line x1="484.5" y1="294.5" x2="502" y2="294.5" stroke="#1a1a1a" stroke-width="1.04"/>
<line x1="502" y1="294.5" x2="516.5" y2="313" stroke="#1a1a1a" stroke-width="1.04"/>
<text x="571" y="333.3" font-size="10" fill="#4a4a4a" text-anchor="start" font-style="italic" font-weight="normal" textLength="4" lengthAdjust="spacingAndGlyphs" >4</text>
<line x1="565" y1="336" x2="579" y2="336" stroke="#1a1a1a" stroke-width="1.04"/>
<line x1="566.5" y1="336" x2="568" y2="305.6" stroke="#1a1a1a" stroke-width="1.04"/>
<text x="597" y="342" font-size="10" fill="#4a4a4a" text-anchor="start" font-style="italic" font-weight="normal" textLength="8" lengthAdjust="spacingAndGlyphs" >22</text>
<line x1="591.5" y1="344.7" x2="608.8" y2="344.7" stroke="#1a1a1a" stroke-width="1.04"/>
<line x1="591.5" y1="344.7" x2="585" y2="318" stroke="#1a1a1a" stroke-width="1.04"/>
<text x="629" y="352.9" font-size="10" fill="#4a4a4a" text-anchor="start" font-style="italic" font-weight="normal" textLength="8" lengthAdjust="spacingAndGlyphs" >15</text>
<line x1="624" y1="355.6" x2="640" y2="355.6" stroke="#1a1a1a" stroke-width="1.04"/>
<line x1="624" y1="355.6" x2="627.5" y2="335" stroke="#1a1a1a" stroke-width="1.04"/>
<text x="539" y="353.3" font-size="10" fill="#4a4a4a" text-anchor="start" font-style="italic" font-weight="normal" textLength="8" lengthAdjust="spacingAndGlyphs" >22</text>
<line x1="535" y1="356" x2="549.5" y2="356" stroke="#1a1a1a" stroke-width="1.04"/>
<line x1="535" y1="356" x2="510" y2="360" stroke="#1a1a1a" stroke-width="1.04"/>
<text x="570" y="364.8" font-size="10" fill="#4a4a4a" text-anchor="start" font-style="italic" font-weight="normal" textLength="8" lengthAdjust="spacingAndGlyphs" >15</text>
<line x1="565" y1="367.5" x2="580.6" y2="367.5" stroke="#1a1a1a" stroke-width="1.04"/>
<line x1="565" y1="367.5" x2="549" y2="380.6" stroke="#1a1a1a" stroke-width="1.04"/>
<text x="522" y="437" font-size="10" fill="#4a4a4a" text-anchor="start" font-style="italic" font-weight="normal" textLength="8" lengthAdjust="spacingAndGlyphs" >16</text>
<line x1="516.5" y1="439.7" x2="532" y2="439.7" stroke="#1a1a1a" stroke-width="1.04"/>
<line x1="516.5" y1="439.7" x2="512.5" y2="400.6" stroke="#1a1a1a" stroke-width="1.04"/>
<line x1="516.5" y1="439.7" x2="493" y2="435" stroke="#1a1a1a" stroke-width="1.04"/>
<text x="459" y="439.3" font-size="10" fill="#4a4a4a" text-anchor="start" font-style="italic" font-weight="normal" textLength="8" lengthAdjust="spacingAndGlyphs" >19</text>
<line x1="453.8" y1="442" x2="469.7" y2="442" stroke="#1a1a1a" stroke-width="1.04"/>
<line x1="469.7" y1="442" x2="469.2" y2="424.7" stroke="#1a1a1a" stroke-width="1.04"/>
<text x="434.8" y="435.2" font-size="10" fill="#4a4a4a" text-anchor="start" font-style="italic" font-weight="normal" textLength="8" lengthAdjust="spacingAndGlyphs" >21</text>
<line x1="429.4" y1="437.9" x2="447.2" y2="437.9" stroke="#1a1a1a" stroke-width="1.04"/>
<line x1="447.2" y1="437.9" x2="457.5" y2="419" stroke="#1a1a1a" stroke-width="1.04"/>
<text x="103.5" y="297.3" font-size="10" fill="#4a4a4a" text-anchor="start" font-style="italic" font-weight="normal" textLength="8" lengthAdjust="spacingAndGlyphs" >16</text>
<line x1="97.5" y1="300" x2="117.5" y2="300" stroke="#1a1a1a" stroke-width="1.04"/>
<line x1="117.5" y1="300" x2="137.5" y2="291" stroke="#1a1a1a" stroke-width="1.04"/>
<text x="138" y="333.1" font-size="10" fill="#4a4a4a" text-anchor="start" font-style="italic" font-weight="normal" textLength="4" lengthAdjust="spacingAndGlyphs" >5</text>
<line x1="130" y1="335.8" x2="148" y2="335.8" stroke="#1a1a1a" stroke-width="1.04"/>
<line x1="148" y1="335.8" x2="167" y2="326.7" stroke="#1a1a1a" stroke-width="1.04"/>
<text x="68.6" y="346.8" font-size="10" fill="#4a4a4a" text-anchor="start" font-style="italic" font-weight="normal" textLength="4" lengthAdjust="spacingAndGlyphs" >7</text>
<line x1="67" y1="349.5" x2="76" y2="349.5" stroke="#1a1a1a" stroke-width="1.04"/>
<line x1="76" y1="349.5" x2="90.5" y2="363" stroke="#1a1a1a" stroke-width="1.04"/>
<text x="134.5" y="359.9" font-size="10" fill="#4a4a4a" text-anchor="start" font-style="italic" font-weight="normal" textLength="8" lengthAdjust="spacingAndGlyphs" >11</text>
<line x1="132.3" y1="362.6" x2="139.8" y2="362.6" stroke="#1a1a1a" stroke-width="1.04"/>
<line x1="132.3" y1="362.6" x2="125.6" y2="391.5" stroke="#1a1a1a" stroke-width="1.04"/>
<text x="146.5" y="467.3" font-size="10" fill="#4a4a4a" text-anchor="start" font-style="italic" font-weight="normal" textLength="8" lengthAdjust="spacingAndGlyphs" >12</text>
<line x1="142.5" y1="470" x2="158.8" y2="470" stroke="#1a1a1a" stroke-width="1.04"/>
<line x1="142.5" y1="470" x2="128.6" y2="460" stroke="#1a1a1a" stroke-width="1.04"/>
<text x="178" y="437.3" font-size="10" fill="#4a4a4a" text-anchor="start" font-style="italic" font-weight="normal" textLength="4" lengthAdjust="spacingAndGlyphs" >6</text>
<line x1="174" y1="440" x2="186.7" y2="440" stroke="#1a1a1a" stroke-width="1.04"/>
<line x1="174" y1="440" x2="155" y2="421.5" stroke="#1a1a1a" stroke-width="1.04"/>
<text x="50.6" y="437.5" font-size="10" fill="#4a4a4a" text-anchor="start" font-style="italic" font-weight="normal" textLength="4" lengthAdjust="spacingAndGlyphs" >9</text>
<line x1="49.5" y1="440.2" x2="59" y2="440.2" stroke="#1a1a1a" stroke-width="1.04"/>
<line x1="59" y1="440.2" x2="85" y2="455.5" stroke="#1a1a1a" stroke-width="1.04"/>
<text x="50.6" y="460" font-size="10" fill="#4a4a4a" text-anchor="start" font-style="italic" font-weight="normal" textLength="4" lengthAdjust="spacingAndGlyphs" >8</text>
<line x1="48.8" y1="462.7" x2="59" y2="462.7" stroke="#1a1a1a" stroke-width="1.04"/>
<line x1="59" y1="462.7" x2="86.3" y2="474.5" stroke="#1a1a1a" stroke-width="1.04"/>
<text x="191" y="458.3" font-size="10" fill="#4a4a4a" text-anchor="start" font-style="italic" font-weight="normal" textLength="8" lengthAdjust="spacingAndGlyphs" >10</text>
<line x1="190" y1="461" x2="201" y2="461" stroke="#1a1a1a" stroke-width="1.04"/>
<line x1="201" y1="461" x2="226" y2="444" stroke="#1a1a1a" stroke-width="1.04"/>
<text x="256" y="429.8" font-size="10" fill="#4a4a4a" text-anchor="start" font-style="italic" font-weight="normal" textLength="8" lengthAdjust="spacingAndGlyphs" >14</text>
<line x1="250" y1="432.5" x2="266" y2="432.5" stroke="#1a1a1a" stroke-width="1.04"/>
<line x1="250" y1="432.5" x2="224" y2="420" stroke="#1a1a1a" stroke-width="1.04"/>
<text x="323.5" y="438.3" font-size="10" fill="#4a4a4a" text-anchor="start" font-style="italic" font-weight="normal" textLength="8" lengthAdjust="spacingAndGlyphs" >13</text>
<line x1="317.5" y1="441" x2="332.5" y2="441" stroke="#1a1a1a" stroke-width="1.04"/>
<line x1="317.5" y1="441" x2="290" y2="426" stroke="#1a1a1a" stroke-width="1.04"/>
<text x="256" y="410.3" font-size="10" fill="#4a4a4a" text-anchor="start" font-style="italic" font-weight="normal" textLength="8" lengthAdjust="spacingAndGlyphs" >18</text>
<line x1="251" y1="413" x2="267.5" y2="413" stroke="#1a1a1a" stroke-width="1.04"/>
<line x1="267.5" y1="413" x2="292.5" y2="384" stroke="#1a1a1a" stroke-width="1.04"/>
<text x="255.5" y="392.3" font-size="10" fill="#4a4a4a" text-anchor="start" font-style="italic" font-weight="normal" textLength="8" lengthAdjust="spacingAndGlyphs" >21</text>
<line x1="251" y1="395" x2="267.5" y2="395" stroke="#1a1a1a" stroke-width="1.04"/>
<line x1="267.5" y1="395" x2="279" y2="378" stroke="#1a1a1a" stroke-width="1.04"/>
<text x="146" y="130" font-size="7.5" fill="#888" text-anchor="middle" font-style="italic" font-weight="normal" >2</text>
<line x1="202.5" y1="109" x2="148.5" y2="129" stroke="#1a1a1a" stroke-width="1.04"/>
<line x1="143" y1="130" x2="111" y2="159" stroke="#1a1a1a" stroke-width="1.04"/>
<text x="523" y="342.5" font-size="7.5" fill="#888" text-anchor="middle" font-style="italic" font-weight="normal" >4</text>
<line x1="510" y1="343.5" x2="530.6" y2="343.5" stroke="#1a1a1a" stroke-width="1.3"/>
<line x1="533.5" y1="310" x2="516" y2="344.5" stroke="#1a1a1a" stroke-width="1.04"/>
<text x="82.77" y="88.2" font-size="21.6" fill="#000" text-anchor="start" font-style="normal" font-weight="normal" textLength="14.66" lengthAdjust="spacingAndGlyphs" >C</text>
<line x1="89" y1="95.3" x2="89" y2="120" stroke="#1a1a1a" stroke-width="1.04"/>
<text x="199.14" y="60.2" font-size="21.6" fill="#000" text-anchor="start" font-style="normal" font-weight="normal" textLength="15.13" lengthAdjust="spacingAndGlyphs" >D</text>
<line x1="199" y1="66" x2="170" y2="76" stroke="#1a1a1a" stroke-width="1.04"/>
<text x="160.44" y="121.8" font-size="21.6" fill="#000" text-anchor="start" font-style="normal" font-weight="normal" textLength="11.53" lengthAdjust="spacingAndGlyphs" >E</text>
<line x1="160" y1="116" x2="97.5" y2="119" stroke="#1a1a1a" stroke-width="1.04"/>
<text x="134.45" y="160.2" font-size="21.6" fill="#000" text-anchor="start" font-style="normal" font-weight="normal" textLength="12.1" lengthAdjust="spacingAndGlyphs" >B</text>
<line x1="133" y1="154" x2="106" y2="144" stroke="#1a1a1a" stroke-width="1.04"/>
<line x1="133" y1="154" x2="82.5" y2="176" stroke="#1a1a1a" stroke-width="1.04"/>
<text x="45.01" y="231.4" font-size="21.6" fill="#000" text-anchor="start" font-style="normal" font-weight="normal" textLength="13.97" lengthAdjust="spacingAndGlyphs" >A</text>
<line x1="59" y1="221.3" x2="63.6" y2="188" stroke="#1a1a1a" stroke-width="1.04"/>
<line x1="59" y1="221.3" x2="86.6" y2="152.5" stroke="#1a1a1a" stroke-width="1.04"/>
<text x="459.97" y="302.3" font-size="21.6" fill="#000" text-anchor="start" font-style="normal" font-weight="normal" textLength="14.66" lengthAdjust="spacingAndGlyphs" >C</text>
<line x1="465" y1="304" x2="463.5" y2="335" stroke="#1a1a1a" stroke-width="1.04"/>
<text x="589.24" y="282.5" font-size="21.6" fill="#000" text-anchor="start" font-style="normal" font-weight="normal" textLength="15.13" lengthAdjust="spacingAndGlyphs" >D</text>
<line x1="587" y1="276" x2="546" y2="290" stroke="#1a1a1a" stroke-width="1.04"/>
<text x="538.74" y="334.6" font-size="21.6" fill="#000" text-anchor="start" font-style="normal" font-weight="normal" textLength="11.53" lengthAdjust="spacingAndGlyphs" >E</text>
<line x1="537" y1="331.2" x2="470" y2="333.7" stroke="#1a1a1a" stroke-width="1.04"/>
<line x1="536" y1="331.6" x2="459.8" y2="359" stroke="#1a1a1a" stroke-width="1.04"/>
<text x="482.55" y="413.2" font-size="21.6" fill="#000" text-anchor="start" font-style="normal" font-weight="normal" textLength="12.1" lengthAdjust="spacingAndGlyphs" >B</text>
<line x1="482.5" y1="406" x2="456" y2="394" stroke="#1a1a1a" stroke-width="1.04"/>
<line x1="482.5" y1="406" x2="480" y2="360" stroke="#1a1a1a" stroke-width="1.04"/>
<text x="374.01" y="421.6" font-size="21.6" fill="#000" text-anchor="start" font-style="normal" font-weight="normal" textLength="13.97" lengthAdjust="spacingAndGlyphs" >A</text>
<line x1="388.1" y1="415.3" x2="436" y2="404" stroke="#1a1a1a" stroke-width="1.04"/>
<line x1="388.1" y1="415.3" x2="462.3" y2="368.4" stroke="#1a1a1a" stroke-width="1.04"/>
</g>
</g></svg></body></html>
